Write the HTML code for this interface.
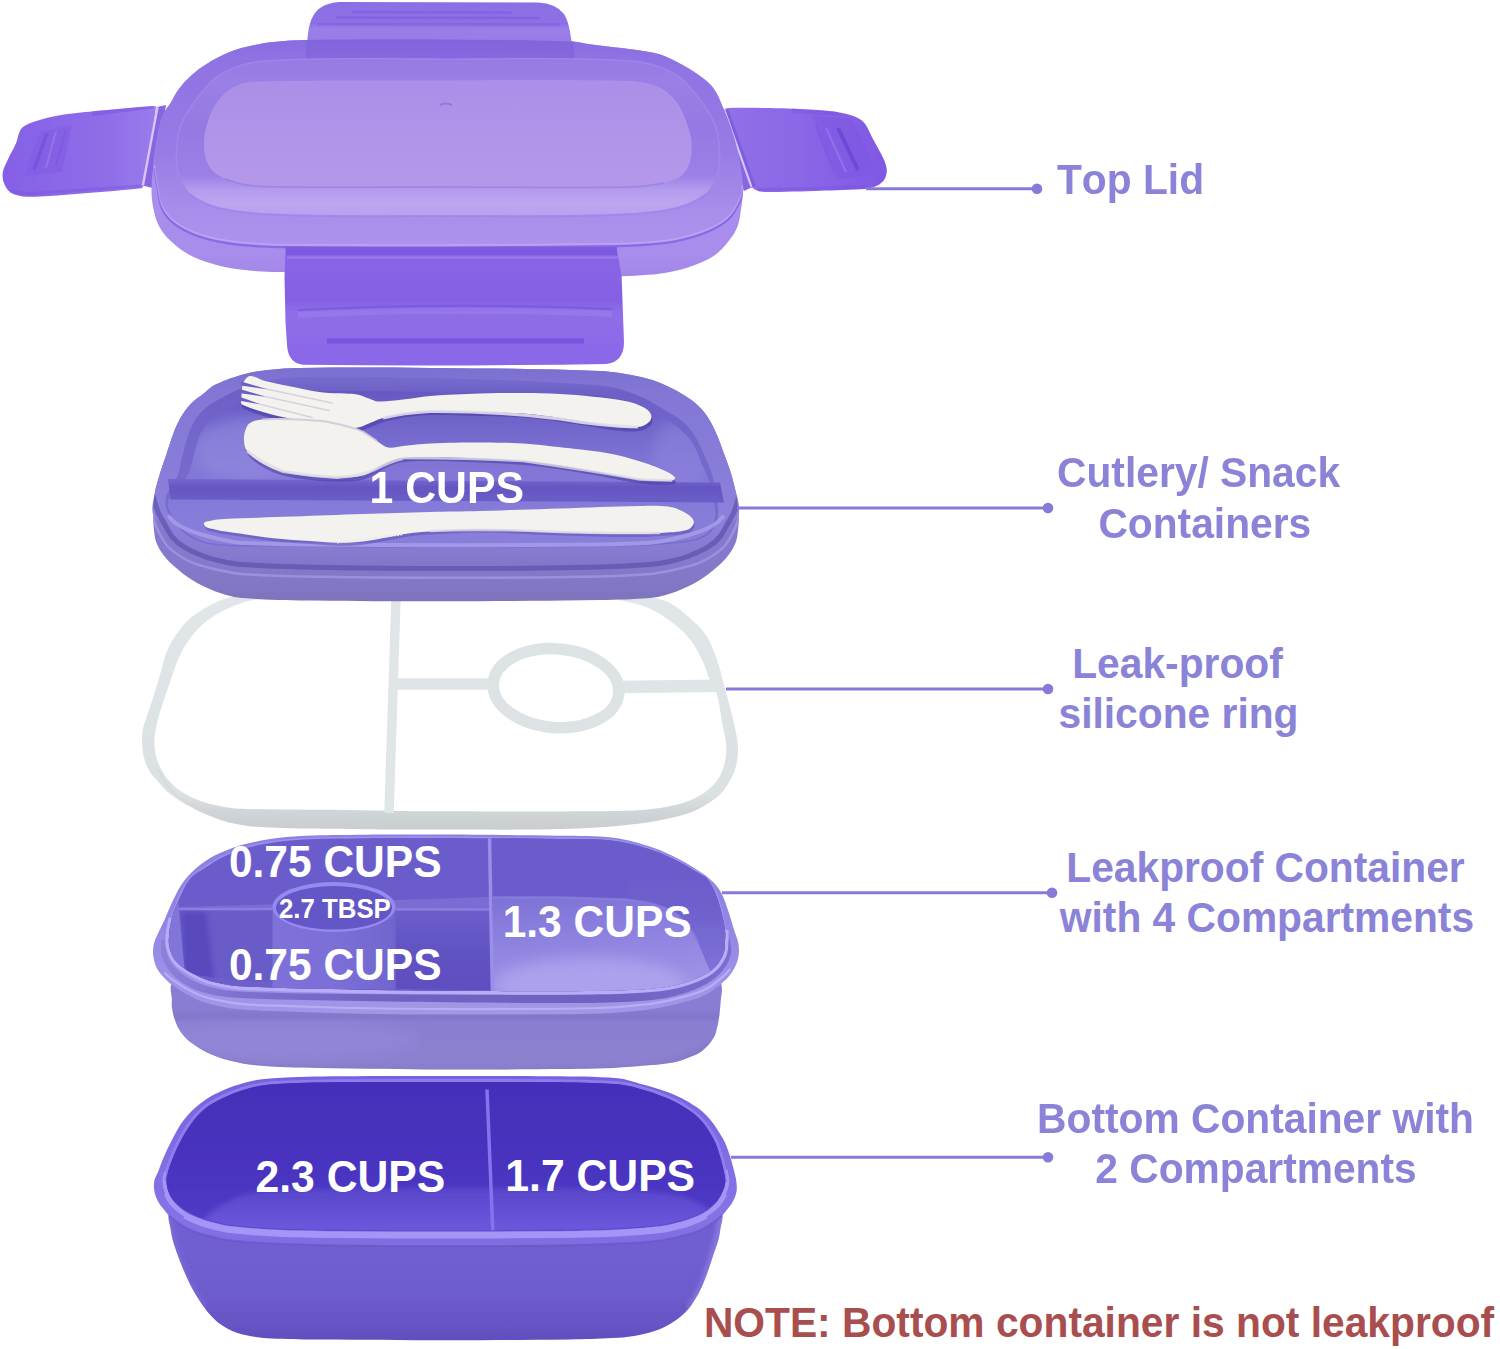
<!DOCTYPE html>
<html lang="en"><head><meta charset="utf-8"><title>Bento lunch box parts</title>
<style>
html,body{margin:0;padding:0;background:#fff;}
body{width:1500px;height:1349px;overflow:hidden;font-family:"Liberation Sans",sans-serif;}
svg{display:block;position:absolute;left:0;top:0;}
text{font-kerning:none;}
.lab{font-family:"Liberation Sans",sans-serif;font-weight:700;font-size:41px;fill:#8b83d8;}
.cup{font-family:"Liberation Sans",sans-serif;font-weight:700;font-size:42.5px;fill:#fff;}
.note{font-family:"Liberation Sans",sans-serif;font-weight:700;font-size:41px;fill:#a94e4e;}
</style></head>
<body>
<svg width="1500" height="1349" viewBox="0 0 1500 1349">
<defs>
<filter id="soft" x="-5%" y="-5%" width="110%" height="110%"><feGaussianBlur stdDeviation="0.7"/></filter>
<filter id="soft2" x="-10%" y="-10%" width="120%" height="120%"><feGaussianBlur stdDeviation="2.5"/></filter>
<filter id="soft6" x="-20%" y="-20%" width="140%" height="140%"><feGaussianBlur stdDeviation="7"/></filter>
<filter id="soft12" x="-30%" y="-30%" width="160%" height="160%"><feGaussianBlur stdDeviation="14"/></filter>
<linearGradient id="lidTop" gradientUnits="userSpaceOnUse" x1="0" y1="40" x2="0" y2="248"><stop offset="0" stop-color="#896ce0"/><stop offset="0.1" stop-color="#9073e3"/><stop offset="0.5" stop-color="#967ae5"/><stop offset="0.82" stop-color="#a88dea"/><stop offset="1" stop-color="#ad92ee"/></linearGradient>
<linearGradient id="lidIn" x1="0" y1="0" x2="0" y2="1"><stop offset="0" stop-color="#ab8fe8"/><stop offset="0.5" stop-color="#b094e8"/><stop offset="1" stop-color="#b498ea"/></linearGradient>
<linearGradient id="lidRidge" gradientUnits="userSpaceOnUse" x1="0" y1="59" x2="0" y2="216"><stop offset="0" stop-color="#967ae4"/><stop offset="0.14" stop-color="#9a7fe6"/><stop offset="0.45" stop-color="#9579e3"/><stop offset="0.74" stop-color="#9b80e6"/><stop offset="0.84" stop-color="#b59dee"/><stop offset="0.92" stop-color="#bda5f1"/><stop offset="1" stop-color="#b9a1f0"/></linearGradient>
<linearGradient id="lidSkirt" gradientUnits="userSpaceOnUse" x1="0" y1="200" x2="0" y2="277"><stop offset="0" stop-color="#a98eee"/><stop offset="0.7" stop-color="#a88dec"/><stop offset="1" stop-color="#a287ea"/></linearGradient>
<linearGradient id="tabL" x1="0" y1="0" x2="1" y2="0"><stop offset="0" stop-color="#8560e6"/><stop offset="0.7" stop-color="#8f6ee8"/><stop offset="1" stop-color="#9a7cec"/></linearGradient>
<linearGradient id="tabR" x1="0" y1="0" x2="1" y2="0"><stop offset="0" stop-color="#9170e8"/><stop offset="0.5" stop-color="#8a66e6"/><stop offset="1" stop-color="#8058e4"/></linearGradient>
<linearGradient id="tabB" x1="0" y1="0" x2="0" y2="1"><stop offset="0" stop-color="#8a66e6"/><stop offset="0.45" stop-color="#8560e4"/><stop offset="0.55" stop-color="#8e6ee8"/><stop offset="0.78" stop-color="#8c6ae8"/><stop offset="1" stop-color="#8a66e8"/></linearGradient>
<linearGradient id="tabT" gradientUnits="userSpaceOnUse" x1="0" y1="2" x2="0" y2="46"><stop offset="0" stop-color="#8c6ee4"/><stop offset="0.5" stop-color="#8e70e5"/><stop offset="0.62" stop-color="#9a7fe9"/><stop offset="1" stop-color="#967ae7"/></linearGradient>
<linearGradient id="trayFloor" x1="0" y1="0" x2="0" y2="1"><stop offset="0" stop-color="#6658c2"/><stop offset="0.2" stop-color="#7064ca"/><stop offset="0.5" stop-color="#8176d6"/><stop offset="1" stop-color="#897fdb"/></linearGradient>
<linearGradient id="trayOut" gradientUnits="userSpaceOnUse" x1="0" y1="560" x2="0" y2="602"><stop offset="0" stop-color="#8479cc"/><stop offset="0.45" stop-color="#8278c6"/><stop offset="1" stop-color="#7d73bc"/></linearGradient>
<linearGradient id="trayRim" gradientUnits="userSpaceOnUse" x1="0" y1="368" x2="0" y2="570"><stop offset="0" stop-color="#7b6fd0"/><stop offset="0.12" stop-color="#8277d5"/><stop offset="0.75" stop-color="#8b81dc"/><stop offset="0.88" stop-color="#867cd2"/><stop offset="1" stop-color="#8076c8"/></linearGradient>
<linearGradient id="trayWall" x1="0" y1="0" x2="0" y2="1"><stop offset="0" stop-color="#776bce"/><stop offset="0.1" stop-color="#6c60c6"/><stop offset="0.4" stop-color="#7468cc"/><stop offset="1" stop-color="#786ccf"/></linearGradient>
<linearGradient id="trayDiv" x1="0" y1="0" x2="0" y2="1"><stop offset="0" stop-color="#7466ce"/><stop offset="0.35" stop-color="#6457c2"/><stop offset="1" stop-color="#6a5dc7"/></linearGradient>
<linearGradient id="c4Body" gradientUnits="userSpaceOnUse" x1="0" y1="1010" x2="0" y2="1071"><stop offset="0" stop-color="#887dd2"/><stop offset="0.5" stop-color="#8a80d0"/><stop offset="1" stop-color="#8b81cd"/></linearGradient>
<linearGradient id="c4Floor" x1="0" y1="0" x2="0.15" y2="1"><stop offset="0" stop-color="#7d71d6"/><stop offset="0.45" stop-color="#8f83e0"/><stop offset="1" stop-color="#a297e8"/></linearGradient>
<linearGradient id="c4LowR" x1="0" y1="0" x2="0" y2="1"><stop offset="0" stop-color="#6c5eca"/><stop offset="0.5" stop-color="#6052c2"/><stop offset="1" stop-color="#5c4ebe"/></linearGradient>
<linearGradient id="c4Cup" x1="0" y1="0" x2="1" y2="0"><stop offset="0" stop-color="#7e72da"/><stop offset="0.6" stop-color="#7a6ed6"/><stop offset="1" stop-color="#7064ce"/></linearGradient>
<linearGradient id="c4RWall" gradientUnits="userSpaceOnUse" x1="0" y1="860" x2="0" y2="980"><stop offset="0" stop-color="#6a5ccb"/><stop offset="0.35" stop-color="#6d5fcc"/><stop offset="0.7" stop-color="#776bd3"/><stop offset="1" stop-color="#8074d8"/></linearGradient>
<linearGradient id="c4Ledge" gradientUnits="userSpaceOnUse" x1="0" y1="835" x2="0" y2="1015"><stop offset="0" stop-color="#8c80e0"/><stop offset="0.5" stop-color="#9186e3"/><stop offset="0.8" stop-color="#9d92e8"/><stop offset="1" stop-color="#a197e6"/></linearGradient>
<linearGradient id="c4Groove" gradientUnits="userSpaceOnUse" x1="160" y1="0" x2="732" y2="0"><stop offset="0" stop-color="#8c80da"/><stop offset="0.15" stop-color="#7c70ce"/><stop offset="0.4" stop-color="#6e62c2"/><stop offset="0.8" stop-color="#6e62c2"/><stop offset="1" stop-color="#7a6ed0"/></linearGradient>
<linearGradient id="c4Left" x1="0" y1="0" x2="0" y2="1"><stop offset="0" stop-color="#6a5cc9"/><stop offset="1" stop-color="#6e60ce"/></linearGradient>
<linearGradient id="btBody" gradientUnits="userSpaceOnUse" x1="0" y1="1240" x2="0" y2="1341"><stop offset="0" stop-color="#705fd1"/><stop offset="0.55" stop-color="#6d5ccd"/><stop offset="0.85" stop-color="#6654c4"/><stop offset="1" stop-color="#604ebe"/></linearGradient>
<linearGradient id="btRim" gradientUnits="userSpaceOnUse" x1="0" y1="1076" x2="0" y2="1246"><stop offset="0" stop-color="#7662de"/><stop offset="0.4" stop-color="#7f6ce4"/><stop offset="0.85" stop-color="#8573e6"/><stop offset="1" stop-color="#7e6ce0"/></linearGradient>
<linearGradient id="btIn" gradientUnits="userSpaceOnUse" x1="0" y1="1086" x2="0" y2="1235"><stop offset="0" stop-color="#442fb9"/><stop offset="0.6" stop-color="#4934c0"/><stop offset="1" stop-color="#513ec8"/></linearGradient>
<linearGradient id="btFloor" gradientUnits="userSpaceOnUse" x1="0" y1="1188" x2="0" y2="1235"><stop offset="0" stop-color="#5846ca"/><stop offset="0.5" stop-color="#6350d6"/><stop offset="1" stop-color="#6c5adc"/></linearGradient>
<linearGradient id="ringG" gradientUnits="userSpaceOnUse" x1="0" y1="596" x2="0" y2="830"><stop offset="0" stop-color="#e1e6e8"/><stop offset="0.85" stop-color="#dbe0e2"/><stop offset="0.92" stop-color="#d0d5d8"/><stop offset="1" stop-color="#c9cdd0"/></linearGradient>
</defs>
<rect width="1500" height="1349" fill="#ffffff"/>
<g id="lid" filter="url(#soft)">
<path d="M306,46 L307.6,38 Q309,16 320,8 Q328,2.5 340,2 L538,2.5 Q556,3.5 564,14 Q569,22 571,38 L573,48 Z" fill="url(#tabT)"/>
<path d="M352,12 L512,12.5" stroke="#7a5adc" stroke-width="2.5" opacity=".55" fill="none"/>
<path d="M336,17.5 L540,18" stroke="#7a5adc" stroke-width="2.5" opacity=".5" fill="none"/>
<path d="M318,24 L560,24.5" stroke="#7a5adc" stroke-width="2.5" opacity=".45" fill="none"/>
<path d="M153.3,106.0C135.3,107.2 111.3,109.5 93.3,111.3C83.3,112.3 69.9,113.5 60.0,115.3C51.9,116.7 41.1,119.3 33.3,122.0C29.4,123.3 23.9,125.5 21.3,128.7C18.4,132.3 17.9,139.0 16.0,143.3C13.9,148.2 10.2,154.4 8.0,159.3C6.2,163.2 3.4,168.4 2.7,172.7C2.2,175.9 2.8,180.3 4.0,183.3C5.3,186.5 7.7,190.9 10.7,192.7C15.0,195.2 21.8,196.5 26.7,196.7C38.7,197.1 54.7,195.6 66.7,194.7C89.2,193.0 119.1,190.7 141.5,188.2C142.3,188.1 143.1,186.8 143.3,186.0C147.5,162.5 153.0,131.0 156.0,107.3C156.1,106.4 154.2,105.9 153.3,106.0Z" fill="url(#tabL)"/>
<path d="M24,176 L40,132 L72,125 L62,172 Z" fill="#7d58e2" opacity=".4"/>
<path d="M34,170 L47,133" stroke="#6e48d8" stroke-width="3.5" opacity=".5"/>
<path d="M46,168 L56,131" stroke="#a58cf0" stroke-width="2" opacity=".45"/>
<path d="M56,166 L66,129" stroke="#7650dc" stroke-width="2" opacity=".4"/>
<path d="M92,111.5 L92,116 L153,108.5 L153.3,106 Z" fill="#7a52e0" opacity=".5"/>
<path d="M12,190 Q20,194 30,193.5 L141,186" stroke="#7a54e0" stroke-width="3" opacity=".45" fill="none"/>
<path d="M157,107 L166,105 L152.5,188 L142.7,185.6 Z" fill="#8866e2"/>
<path d="M157.5,107.4 L142.9,185.4" stroke="#d4c8fa" stroke-width="2.4"/>
<path d="M728.0,108.0C747.6,107.6 773.8,108.1 793.4,108.7C805.4,109.1 821.5,109.9 833.4,111.4C839.5,112.1 847.6,113.9 853.4,116.0C857.0,117.3 861.7,119.8 864.1,122.7C867.9,127.2 870.7,134.8 873.5,140.0C876.7,146.0 881.4,153.8 884.1,160.0C885.4,163.0 886.8,167.4 886.8,170.7C886.8,173.6 885.7,177.5 884.1,180.0C882.7,182.2 879.8,184.3 877.5,185.4C874.5,186.9 870.1,188.4 866.8,188.7C852.8,190.0 834.0,190.2 820.0,190.7C804.0,191.2 782.7,192.0 766.7,192.0C763.9,192.0 760.1,191.7 757.4,190.7C755.5,190.0 752.8,188.6 752.0,186.7C742.8,164.1 731.8,133.4 724.7,110.0C724.4,108.9 726.8,108.0 728.0,108.0Z" fill="url(#tabR)"/>
<path d="M812,116 L852,119 L878,174 L838,179 Z" fill="#7a54e0" opacity=".4"/>
<path d="M838,128 L858,170" stroke="#6040d0" stroke-width="4" opacity=".6"/>
<path d="M826,128 L846,172" stroke="#a58cf0" stroke-width="2" opacity=".45"/>
<path d="M816,126 L834,172" stroke="#7650dc" stroke-width="2" opacity=".4"/>
<path d="M792,108.5 L792,113 L843,116 L836,111.5 Z" fill="#7a52e0" opacity=".45"/>
<path d="M758,189.5 L820,188.5 L868,186" stroke="#7a54e0" stroke-width="3" opacity=".5" fill="none"/>
<path d="M718,106 L725,110 L752.5,187 L744,191 Z" fill="#8866e2"/>
<path d="M726,110 L753.5,187" stroke="#7a56de" stroke-width="5" opacity=".7"/>
<path d="M724.2,109.5 L751.5,187" stroke="#d4c8fa" stroke-width="2.2"/>
<path d="M306.7,40.0C354.7,39.3 392.0,39.2 440.0,39.5C487.9,39.8 525.1,40.0 573.0,41.5C579.0,41.7 583.4,43.5 589.3,44.3C612.3,47.5 630.5,48.2 653.3,52.8C662.3,54.6 668.8,57.9 677.0,62.0C685.7,66.3 692.1,70.4 700.0,76.0C705.2,79.8 709.5,82.8 713.3,88.0C717.8,94.1 719.7,99.8 722.7,106.7C726.0,114.2 728.3,120.2 731.0,128.0C733.3,134.6 734.9,139.9 736.5,146.7C738.5,155.0 739.8,161.5 741.0,170.0C742.1,177.3 742.8,183.0 742.8,190.4C742.8,197.1 742.1,202.2 741.1,208.8C740.2,215.2 739.8,220.4 737.5,226.4C735.3,232.1 732.5,236.2 728.7,241.0C724.0,246.8 720.2,251.5 714.0,255.7C706.8,260.6 700.2,263.0 692.0,266.0C684.3,268.8 678.0,270.3 670.0,271.9C662.2,273.5 656.0,274.1 648.0,274.8C638.5,275.7 631.1,276.2 621.6,276.3C559.8,277.0 511.8,277.8 450.0,277.0C390.2,276.3 343.8,273.9 284.0,272.1C276.1,271.9 269.9,272.0 262.0,271.4C251.4,270.7 243.2,270.2 232.7,268.5C224.7,267.2 218.5,265.8 210.7,263.3C202.6,260.7 196.2,258.6 188.7,254.5C181.7,250.6 176.8,246.8 171.0,241.3C166.1,236.7 162.5,232.6 159.3,226.7C156.1,220.8 154.9,215.6 153.5,209.0C152.1,202.3 151.4,196.9 151.5,190.0C151.6,179.2 152.7,170.8 154.0,160.0C155.3,149.2 156.2,140.7 158.5,130.0C159.8,123.7 161.4,118.9 164.0,113.0C165.8,109.0 168.4,106.5 170.7,102.7C173.7,97.9 175.3,93.8 178.7,89.3C182.6,84.1 185.9,80.3 190.7,76.0C196.0,71.2 200.6,67.8 206.7,64.0C213.6,59.6 219.2,56.5 226.7,53.3C233.7,50.3 239.3,48.5 246.7,46.7C256.2,44.4 263.6,43.1 273.3,42.0C285.3,40.7 294.7,40.2 306.7,40.0Z" fill="url(#lidSkirt)"/>
<path d="M306.7,40.0C354.7,39.3 392.0,39.2 440.0,39.5C487.9,39.8 525.1,40.0 573.0,41.5C579.0,41.7 583.4,43.5 589.3,44.3C612.3,47.5 630.5,48.2 653.3,52.8C662.3,54.6 668.8,57.9 677.0,62.0C685.7,66.3 692.1,70.4 700.0,76.0C705.2,79.8 709.5,82.8 713.3,88.0C717.8,94.1 719.7,99.8 722.7,106.7C726.0,114.2 728.3,120.2 731.0,128.0C733.3,134.6 734.9,139.9 736.5,146.7C738.5,155.0 739.8,161.5 741.0,170.0C741.9,176.4 742.6,181.5 742.5,188.0C742.4,192.4 742.2,196.0 740.4,200.0C737.1,207.3 734.5,213.4 728.7,219.0C722.0,225.4 715.2,228.7 706.7,232.3C696.6,236.6 688.1,238.7 677.3,241.0C666.9,243.2 658.6,243.8 648.0,244.7C637.5,245.6 629.3,246.1 618.7,246.2C558.0,247.1 510.7,247.3 450.0,247.5C390.8,247.7 344.7,247.5 285.5,247.2C277.0,247.2 270.4,247.1 262.0,246.5C248.8,245.5 238.4,245.0 225.3,242.8C214.6,241.0 206.2,239.3 196.0,235.5C187.6,232.4 181.1,229.3 174.0,223.7C168.7,219.5 165.2,215.1 162.3,209.0C159.3,202.7 159.2,196.9 157.9,190.0C156.4,182.1 154.4,176.0 154.5,168.0C154.6,154.2 156.2,143.6 158.5,130.0C159.6,123.7 161.4,118.9 164.0,113.0C165.8,109.0 168.4,106.5 170.7,102.7C173.7,97.9 175.3,93.8 178.7,89.3C182.6,84.1 185.9,80.3 190.7,76.0C196.0,71.2 200.6,67.8 206.7,64.0C213.6,59.6 219.2,56.5 226.7,53.3C233.7,50.3 239.3,48.5 246.7,46.7C256.2,44.4 263.6,43.1 273.3,42.0C285.3,40.7 294.7,40.2 306.7,40.0Z" fill="url(#lidTop)"/>
<clipPath id="lidclip"><path d="M306.7,40.0C354.7,39.3 392.0,39.2 440.0,39.5C487.9,39.8 525.1,40.0 573.0,41.5C579.0,41.7 583.4,43.5 589.3,44.3C612.3,47.5 630.5,48.2 653.3,52.8C662.3,54.6 668.8,57.9 677.0,62.0C685.7,66.3 692.1,70.4 700.0,76.0C705.2,79.8 709.5,82.8 713.3,88.0C717.8,94.1 719.7,99.8 722.7,106.7C726.0,114.2 728.3,120.2 731.0,128.0C733.3,134.6 734.9,139.9 736.5,146.7C738.5,155.0 739.8,161.5 741.0,170.0C741.9,176.4 742.6,181.5 742.5,188.0C742.4,192.4 742.2,196.0 740.4,200.0C737.1,207.3 734.5,213.4 728.7,219.0C722.0,225.4 715.2,228.7 706.7,232.3C696.6,236.6 688.1,238.7 677.3,241.0C666.9,243.2 658.6,243.8 648.0,244.7C637.5,245.6 629.3,246.1 618.7,246.2C558.0,247.1 510.7,247.3 450.0,247.5C390.8,247.7 344.7,247.5 285.5,247.2C277.0,247.2 270.4,247.1 262.0,246.5C248.8,245.5 238.4,245.0 225.3,242.8C214.6,241.0 206.2,239.3 196.0,235.5C187.6,232.4 181.1,229.3 174.0,223.7C168.7,219.5 165.2,215.1 162.3,209.0C159.3,202.7 159.2,196.9 157.9,190.0C156.4,182.1 154.4,176.0 154.5,168.0C154.6,154.2 156.2,143.6 158.5,130.0C159.6,123.7 161.4,118.9 164.0,113.0C165.8,109.0 168.4,106.5 170.7,102.7C173.7,97.9 175.3,93.8 178.7,89.3C182.6,84.1 185.9,80.3 190.7,76.0C196.0,71.2 200.6,67.8 206.7,64.0C213.6,59.6 219.2,56.5 226.7,53.3C233.7,50.3 239.3,48.5 246.7,46.7C256.2,44.4 263.6,43.1 273.3,42.0C285.3,40.7 294.7,40.2 306.7,40.0Z"/></clipPath>
<g clip-path="url(#lidclip)"><path d="M307,38 L573,38 L575,60 L305,60 Z" fill="#7a5cd8" opacity=".45"/></g>
<path d="M264.0,61.0C330.8,56.6 383.0,59.0 450.0,59.0C515.5,59.0 566.6,56.6 632.0,61.0C648.0,62.1 660.7,66.1 674.7,74.0C686.0,80.4 692.0,89.5 700.0,99.7C706.6,108.0 711.2,115.1 715.0,125.0C718.4,133.9 719.1,141.5 719.5,151.0C719.9,160.2 719.7,167.7 717.0,176.5C714.9,183.4 712.4,189.3 706.7,193.6C696.6,201.3 687.1,205.7 674.7,208.5C652.1,213.5 633.8,214.2 610.7,215.0C552.9,216.9 507.9,216.0 450.0,216.0C390.6,216.0 344.4,216.9 285.0,215.0C261.9,214.2 243.6,213.5 221.0,208.5C208.6,205.7 199.1,201.3 189.0,193.6C183.3,189.3 181.0,183.3 179.0,176.5C176.4,167.6 176.1,160.2 176.5,151.0C176.9,141.5 177.6,133.9 181.0,125.0C184.8,115.1 189.5,108.0 196.0,99.7C204.0,89.5 209.8,80.4 221.0,74.0C235.1,66.0 247.9,62.1 264.0,61.0Z" fill="url(#lidRidge)"/>
<path d="M264.0,61.0C330.8,56.6 383.0,59.0 450.0,59.0C515.5,59.0 566.6,56.6 632.0,61.0C648.0,62.1 660.7,66.1 674.7,74.0C686.0,80.4 692.0,89.5 700.0,99.7C706.6,108.0 711.2,115.1 715.0,125.0C718.4,133.9 719.1,141.5 719.5,151.0C719.9,160.2 719.7,167.7 717.0,176.5C714.9,183.4 712.4,189.3 706.7,193.6C696.6,201.3 687.1,205.7 674.7,208.5C652.1,213.5 633.8,214.2 610.7,215.0C552.9,216.9 507.9,216.0 450.0,216.0C390.6,216.0 344.4,216.9 285.0,215.0C261.9,214.2 243.6,213.5 221.0,208.5C208.6,205.7 199.1,201.3 189.0,193.6C183.3,189.3 181.0,183.3 179.0,176.5C176.4,167.6 176.1,160.2 176.5,151.0C176.9,141.5 177.6,133.9 181.0,125.0C184.8,115.1 189.5,108.0 196.0,99.7C204.0,89.5 209.8,80.4 221.0,74.0C235.1,66.0 247.9,62.1 264.0,61.0Z" fill="none" stroke="#a88eec" stroke-width="1.6" opacity=".6"/>
<path d="M259.0,81.6C327.7,79.8 381.2,80.7 450.0,80.5C507.9,80.3 552.9,79.3 610.7,80.5C626.0,80.8 638.3,80.4 653.0,84.8C662.1,87.5 668.3,92.7 674.7,99.7C680.5,106.1 683.0,112.8 686.0,121.0C689.2,129.9 691.9,137.2 691.7,146.7C691.5,156.1 690.7,164.5 685.0,172.0C679.8,178.8 672.2,180.7 664.0,183.0C652.8,186.2 643.6,186.8 632.0,187.0C566.5,188.2 515.5,187.0 450.0,187.0C392.0,187.0 347.0,187.6 289.0,187.0C273.8,186.9 261.8,187.0 246.7,185.0C238.6,184.0 232.4,182.1 225.0,178.7C219.1,175.9 214.0,173.4 210.4,168.0C206.0,161.3 204.4,154.7 204.0,146.7C203.5,137.3 205.2,129.9 208.0,121.0C210.6,112.8 213.6,106.4 219.0,99.7C223.9,93.6 228.8,89.2 236.0,86.0C243.7,82.5 250.6,81.8 259.0,81.6Z" fill="url(#lidIn)"/>
<path d="M664.0,183.0C652.5,184.4 643.6,186.8 632.0,187.0C566.5,188.2 515.5,187.0 450.0,187.0C392.0,187.0 347.0,187.6 289.0,187.0C273.8,186.9 261.8,187.0 246.7,185.0C238.6,184.0 232.8,181.0 225.0,178.7" fill="none" stroke="#9576de" stroke-width="1.6" opacity=".6"/>
<path d="M440,105 Q446,102 452,105" stroke="#8d6fdc" stroke-width="2" fill="none" opacity=".8"/>
<path d="M717.0,176.5C713.3,182.7 712.4,189.3 706.7,193.6C696.6,201.3 687.1,205.7 674.7,208.5C652.1,213.5 633.8,214.2 610.7,215.0C552.9,216.9 507.9,216.0 450.0,216.0C390.6,216.0 344.4,216.9 285.0,215.0C261.9,214.2 243.6,213.5 221.0,208.5C208.6,205.7 199.1,201.3 189.0,193.6C183.3,189.3 182.6,182.7 179.0,176.5" fill="none" stroke="#9d80e6" stroke-width="2" opacity=".55"/>
<path d="M742.5,188.0C741.7,192.3 742.2,196.0 740.4,200.0C737.1,207.3 734.5,213.4 728.7,219.0C722.0,225.4 715.2,228.7 706.7,232.3C696.6,236.6 688.1,238.7 677.3,241.0C666.9,243.2 658.6,243.8 648.0,244.7C637.5,245.6 629.3,246.1 618.7,246.2C558.0,247.1 510.7,247.3 450.0,247.5C390.8,247.7 344.7,247.5 285.5,247.2C277.0,247.2 270.4,247.1 262.0,246.5C248.8,245.5 238.4,245.0 225.3,242.8C214.6,241.0 206.2,239.3 196.0,235.5C187.6,232.4 181.1,229.3 174.0,223.7C168.7,219.5 165.2,215.1 162.3,209.0C159.3,202.7 159.2,196.9 157.9,190.0C156.4,182.1 155.7,175.9 154.5,168.0" fill="none" stroke="#7e5ee2" stroke-width="2.2" opacity=".75"/>
<path d="M742.5,188.0C741.7,192.3 742.2,196.0 740.4,200.0C737.1,207.3 734.5,213.4 728.7,219.0C722.0,225.4 715.2,228.7 706.7,232.3C696.6,236.6 688.1,238.7 677.3,241.0C666.9,243.2 658.6,243.8 648.0,244.7C637.5,245.6 629.3,246.1 618.7,246.2C558.0,247.1 510.7,247.3 450.0,247.5C390.8,247.7 344.7,247.5 285.5,247.2C277.0,247.2 270.4,247.1 262.0,246.5C248.8,245.5 238.4,245.0 225.3,242.8C214.6,241.0 206.2,239.3 196.0,235.5C187.6,232.4 181.1,229.3 174.0,223.7C168.7,219.5 165.2,215.1 162.3,209.0C159.3,202.7 159.2,196.9 157.9,190.0C156.4,182.1 155.7,175.9 154.5,168.0" fill="none" stroke="#c4b2f6" stroke-width="1.6" opacity=".6" transform="translate(0,-2.5)"/>
<path d="M285.5,247 L616.5,247 L621.6,276 L624,342 Q624,362 606,364 Q450,366.5 303,364.8 Q288,363 287,345 L285.5,322 L284.5,278 Z" fill="url(#tabB)"/>
<path d="M286,251 L617,251" stroke="#7652dc" stroke-width="8" opacity=".55"/>
<path d="M287,257.5 L618,257.5" stroke="#a992f2" stroke-width="2" opacity=".5"/>
<path d="M298,310 Q450,302 612,309" stroke="#7650dc" stroke-width="2.2" opacity=".6" fill="none"/>
<path d="M298,315 Q450,307 612,314" stroke="#a088ee" stroke-width="6" opacity=".4" fill="none"/>
<path d="M327,341 L584,341" stroke="#7048da" stroke-width="5" opacity=".7" fill="none"/>
</g>
<g id="ring" filter="url(#soft)">
<path d="M228.0,597.8C239.3,594.6 248.3,592.5 260.0,592.0C321.2,589.6 368.8,590.2 430.0,590.0C491.2,589.8 538.8,589.8 600.0,591.0C611.9,591.2 621.2,592.3 633.0,594.0C644.0,595.6 652.6,597.1 663.3,600.2C667.8,601.5 671.0,603.5 675.0,606.0C679.5,608.9 682.7,611.6 686.7,615.3C693.7,621.7 699.9,626.2 705.3,634.0C711.0,642.4 713.5,650.1 717.0,659.7C720.3,668.7 721.5,676.1 724.0,685.3C727.4,697.9 730.5,707.6 733.3,720.3C735.5,730.3 737.5,738.1 738.0,748.3C738.3,755.1 737.2,760.4 735.7,767.0C734.7,771.4 733.2,774.7 731.0,778.7C728.1,784.0 725.8,788.2 721.7,792.7C718.1,796.7 714.5,799.0 710.0,802.0C704.4,805.7 699.9,808.6 693.7,811.3C687.2,814.1 681.9,815.4 675.0,817.0C662.5,819.8 652.7,822.1 640.0,823.5C614.9,826.3 595.3,828.1 570.0,828.8C519.6,830.3 480.4,829.5 430.0,829.6C406.0,829.6 387.3,829.5 363.3,829.2C327.3,828.7 299.3,829.1 263.3,827.3C251.2,826.7 241.8,825.4 230.0,822.7C220.1,820.4 212.7,817.1 203.3,813.3C198.3,811.3 194.7,809.1 190.0,806.5C185.1,803.8 181.3,801.8 176.7,798.7C172.5,795.8 169.2,793.5 165.5,790.0C162.0,786.7 159.8,783.6 156.7,780.0C154.2,777.1 151.7,775.1 149.8,771.7C147.1,767.0 145.4,763.0 144.0,757.7C142.7,752.8 142.3,748.8 142.1,743.7C141.9,738.7 142.0,734.7 142.8,729.7C143.5,725.4 145.0,722.2 146.3,718.0C148.7,710.4 150.9,704.6 153.3,697.0C155.9,688.6 157.8,682.1 160.3,673.7C162.8,665.3 163.9,658.4 167.3,650.3C169.9,644.0 172.8,639.6 176.7,634.0C180.4,628.6 183.4,624.4 188.3,620.0C194.4,614.5 199.8,611.0 207.0,607.0C214.2,603.0 220.1,600.0 228.0,597.8Z M253.7,600.0C270.2,597.3 283.3,598.3 300.0,598.0C346.8,597.2 383.2,597.0 430.0,597.0C491.2,597.0 538.8,596.3 600.0,598.0C611.2,598.3 619.8,599.9 630.7,602.5C639.4,604.5 646.1,606.7 654.0,610.7C662.1,614.8 667.9,619.0 675.0,624.7C681.4,629.9 686.3,634.4 691.3,641.0C696.5,647.9 699.3,654.2 703.0,662.0C706.1,668.5 707.2,674.1 710.0,680.7C712.2,685.9 715.4,689.3 717.0,694.7C719.7,703.7 720.1,711.1 721.7,720.3C723.4,730.4 726.1,738.1 726.3,748.3C726.5,756.0 725.2,762.0 722.8,769.3C721.0,774.8 718.5,778.9 714.7,783.3C710.4,788.3 706.3,791.6 700.7,795.0C694.4,798.8 689.1,801.2 682.0,803.2C671.3,806.3 662.7,807.7 651.7,809.0C639.2,810.5 629.3,810.8 616.7,810.9C549.5,811.6 497.2,811.5 430.0,811.3C406.0,811.2 387.3,810.5 363.3,810.2C321.3,809.7 288.7,810.0 246.7,809.0C238.2,808.8 231.6,808.2 223.3,806.7C214.8,805.2 208.1,803.7 200.0,800.8C192.9,798.2 187.5,795.7 181.3,791.5C175.6,787.7 171.6,784.0 167.3,778.7C163.1,773.4 160.5,768.6 158.0,762.3C155.8,756.7 154.9,752.0 154.5,746.0C154.1,740.1 154.7,735.5 155.7,729.7C156.8,722.9 158.3,717.6 160.3,711.0C163.4,700.8 166.2,693.0 169.7,683.0C172.9,673.7 175.0,666.3 179.0,657.3C181.7,651.1 184.4,646.5 188.3,641.0C192.8,634.7 196.5,629.8 202.3,624.7C209.2,618.8 215.1,614.6 223.3,610.7C233.8,605.7 242.3,601.9 253.7,600.0Z" fill="url(#ringG)" fill-rule="evenodd"/>
<path d="M682.0,803.2C671.1,805.3 662.7,807.7 651.7,809.0C639.2,810.5 629.3,810.8 616.7,810.9C549.5,811.6 497.2,811.5 430.0,811.3C406.0,811.2 387.3,810.5 363.3,810.2C321.3,809.7 288.7,810.0 246.7,809.0C238.2,808.8 231.6,808.2 223.3,806.7C214.8,805.2 208.1,803.7 200.0,800.8C192.9,798.2 187.5,795.7 181.3,791.5C175.6,787.7 171.6,784.0 167.3,778.7C163.1,773.4 161.3,768.2 158.0,762.3" fill="none" stroke="#cfd6d8" stroke-width="1.5" opacity=".5" transform="translate(0,7)"/>
<path d="M396,598 L389,813" stroke="#e0e5e7" stroke-width="9.4"/>
<path d="M397,684 L494,684" stroke="#dfe4e6" stroke-width="11.7"/>
<path d="M618,687 L719,685.8" stroke="#dfe4e6" stroke-width="12.5"/>
<ellipse cx="556" cy="688.2" rx="63" ry="39.4" fill="none" stroke="#dde3e4" stroke-width="11.5" transform="rotate(4.5 556 688)"/>
</g>
<g id="tray" filter="url(#soft)">
<path d="M153.3,515.6C153.4,507.6 153.4,501.3 154.7,493.4C155.9,486.0 157.9,480.5 160.0,473.4C162.2,466.1 164.3,460.6 166.7,453.4C169.1,446.2 170.7,440.5 173.4,433.4C175.5,428.0 177.1,423.7 180.0,418.7C183.3,413.1 186.2,408.8 190.7,404.0C194.9,399.5 199.2,397.1 204.0,393.3C208.1,390.1 210.9,386.8 215.6,384.6C225.8,379.8 234.2,377.0 245.0,374.0C253.1,371.7 259.6,370.9 268.0,370.0C279.5,368.7 288.5,368.1 300.0,368.0C346.8,367.4 383.2,367.5 430.0,368.0C491.2,368.6 538.8,368.6 600.0,371.0C613.1,371.5 623.2,373.5 636.0,376.0C644.4,377.6 651.0,379.3 659.0,382.5C668.0,386.0 674.8,389.4 683.0,394.5C690.0,398.8 695.4,402.5 701.0,408.5C706.3,414.2 709.5,419.5 713.0,426.5C718.0,436.4 720.7,444.6 724.5,455.0C728.3,465.5 731.5,473.6 734.0,484.5C736.6,495.5 737.8,504.3 738.7,515.6C739.2,521.1 738.5,525.5 737.9,531.0C737.4,535.3 737.2,538.8 735.6,542.8C733.5,547.9 731.2,551.7 727.8,556.0C724.1,560.7 720.6,563.8 716.1,567.7C710.8,572.3 706.5,575.7 700.6,579.4C693.9,583.6 688.3,586.3 681.1,589.5C675.7,591.9 671.3,593.4 665.6,595.0C660.1,596.5 655.7,597.6 650.0,598.0C632.0,599.4 618.0,599.7 600.0,600.0C549.6,600.8 510.4,601.1 460.0,601.2C402.4,601.3 357.6,601.3 300.0,600.5C279.1,600.2 262.8,599.6 242.0,598.0C236.3,597.6 231.9,596.5 226.4,595.0C220.7,593.4 216.3,591.9 210.9,589.5C203.7,586.3 198.1,583.6 191.4,579.4C185.5,575.7 181.2,572.3 175.9,567.7C171.4,563.8 167.9,560.7 164.2,556.0C160.8,551.7 158.5,547.9 156.4,542.8C154.8,538.8 154.6,535.3 154.1,531.0C153.5,525.5 153.2,521.2 153.3,515.6Z" fill="url(#trayOut)"/>
<path d="M153.3,515.6C150.9,508.0 153.4,501.3 154.7,493.4C155.9,486.0 157.9,480.5 160.0,473.4C162.2,466.1 164.3,460.6 166.7,453.4C169.1,446.2 170.7,440.5 173.4,433.4C175.5,428.0 177.1,423.7 180.0,418.7C183.3,413.1 186.2,408.8 190.7,404.0C194.9,399.5 199.2,397.1 204.0,393.3C208.1,390.1 210.9,386.8 215.6,384.6C225.8,379.8 234.2,377.0 245.0,374.0C253.1,371.7 259.6,370.9 268.0,370.0C279.5,368.7 288.5,368.1 300.0,368.0C346.8,367.4 383.2,367.5 430.0,368.0C491.2,368.6 538.8,368.6 600.0,371.0C613.1,371.5 623.2,373.5 636.0,376.0C644.4,377.6 651.0,379.3 659.0,382.5C668.0,386.0 674.8,389.4 683.0,394.5C690.0,398.8 695.4,402.5 701.0,408.5C706.3,414.2 709.5,419.5 713.0,426.5C718.0,436.4 720.7,444.6 724.5,455.0C728.3,465.5 731.5,473.6 734.0,484.5C736.6,495.5 740.5,504.4 738.7,515.6C737.9,520.3 731.0,519.7 727.8,523.3C724.1,527.4 723.5,532.3 720.0,536.6C716.5,540.9 713.1,543.8 708.4,546.7C701.8,550.8 696.2,553.2 688.9,556.0C682.1,558.6 676.6,559.9 669.5,561.5C662.6,563.0 657.1,564.0 650.0,564.6C632.0,566.0 618.0,566.6 600.0,567.0C549.6,568.0 510.4,568.5 460.0,568.5C402.4,568.5 357.6,568.0 300.0,567.0C279.1,566.6 262.8,566.1 242.0,564.6C234.9,564.1 229.4,563.0 222.5,561.5C215.4,559.9 209.9,558.6 203.1,556.0C195.8,553.2 190.2,550.8 183.6,546.7C178.9,543.8 175.5,540.9 172.0,536.6C168.5,532.3 167.9,527.4 164.2,523.3C161.0,519.7 154.8,520.2 153.3,515.6Z" fill="url(#trayRim)"/>
<clipPath id="trayclip"><path d="M153.3,515.6C153.4,507.6 153.4,501.3 154.7,493.4C155.9,486.0 157.9,480.5 160.0,473.4C162.2,466.1 164.3,460.6 166.7,453.4C169.1,446.2 170.7,440.5 173.4,433.4C175.5,428.0 177.1,423.7 180.0,418.7C183.3,413.1 186.2,408.8 190.7,404.0C194.9,399.5 199.2,397.1 204.0,393.3C208.1,390.1 210.9,386.8 215.6,384.6C225.8,379.8 234.2,377.0 245.0,374.0C253.1,371.7 259.6,370.9 268.0,370.0C279.5,368.7 288.5,368.1 300.0,368.0C346.8,367.4 383.2,367.5 430.0,368.0C491.2,368.6 538.8,368.6 600.0,371.0C613.1,371.5 623.2,373.5 636.0,376.0C644.4,377.6 651.0,379.3 659.0,382.5C668.0,386.0 674.8,389.4 683.0,394.5C690.0,398.8 695.4,402.5 701.0,408.5C706.3,414.2 709.5,419.5 713.0,426.5C718.0,436.4 720.7,444.6 724.5,455.0C728.3,465.5 731.5,473.6 734.0,484.5C736.6,495.5 737.8,504.3 738.7,515.6C739.2,521.1 738.5,525.5 737.9,531.0C737.4,535.3 737.2,538.8 735.6,542.8C733.5,547.9 731.2,551.7 727.8,556.0C724.1,560.7 720.6,563.8 716.1,567.7C710.8,572.3 706.5,575.7 700.6,579.4C693.9,583.6 688.3,586.3 681.1,589.5C675.7,591.9 671.3,593.4 665.6,595.0C660.1,596.5 655.7,597.6 650.0,598.0C632.0,599.4 618.0,599.7 600.0,600.0C549.6,600.8 510.4,601.1 460.0,601.2C402.4,601.3 357.6,601.3 300.0,600.5C279.1,600.2 262.8,599.6 242.0,598.0C236.3,597.6 231.9,596.5 226.4,595.0C220.7,593.4 216.3,591.9 210.9,589.5C203.7,586.3 198.1,583.6 191.4,579.4C185.5,575.7 181.2,572.3 175.9,567.7C171.4,563.8 167.9,560.7 164.2,556.0C160.8,551.7 158.5,547.9 156.4,542.8C154.8,538.8 154.6,535.3 154.1,531.0C153.5,525.5 153.2,521.2 153.3,515.6Z"/></clipPath>
<g clip-path="url(#trayclip)">
<path d="M739.0,496.0C737.2,501.8 736.3,506.4 734.0,512.0C732.2,516.3 730.1,519.3 727.8,523.3C725.1,528.1 723.5,532.3 720.0,536.6C716.5,540.9 713.1,543.8 708.4,546.7C701.8,550.8 696.2,553.2 688.9,556.0C682.1,558.6 676.6,559.9 669.5,561.5C662.6,563.0 657.1,564.0 650.0,564.6C632.0,566.0 618.0,566.6 600.0,567.0C549.6,568.0 510.4,568.5 460.0,568.5C402.4,568.5 357.6,568.0 300.0,567.0C279.1,566.6 262.8,566.1 242.0,564.6C234.9,564.1 229.4,563.0 222.5,561.5C215.4,559.9 209.9,558.6 203.1,556.0C195.8,553.2 190.2,550.8 183.6,546.7C178.9,543.8 175.5,540.9 172.0,536.6C168.5,532.3 166.9,528.1 164.2,523.3C161.9,519.3 159.8,516.3 158.0,512.0C155.7,506.4 154.8,501.8 153.0,496.0" fill="none" stroke="#5e52ae" stroke-width="5" opacity=".75" filter="url(#soft)"/>
<path d="M740.0,508.0C739.1,513.0 739.0,517.1 737.5,522.0C736.0,526.9 734.2,530.5 731.7,535.0C729.3,539.4 727.3,543.0 723.9,546.7C720.3,550.6 716.8,553.2 712.3,556.0C707.0,559.3 702.6,561.7 696.7,563.8C688.5,566.7 681.8,568.1 673.3,570.0C665.0,571.8 658.5,573.2 650.0,574.0C632.0,575.6 618.0,576.1 600.0,576.5C549.6,577.5 510.4,577.7 460.0,577.7C402.4,577.7 357.6,577.5 300.0,576.5C279.1,576.1 262.8,575.7 242.0,574.0C233.5,573.3 227.0,571.8 218.7,570.0C210.2,568.1 203.5,566.7 195.3,563.8C189.4,561.7 185.0,559.3 179.7,556.0C175.2,553.2 171.7,550.6 168.1,546.7C164.7,543.0 162.7,539.4 160.3,535.0C157.8,530.5 156.0,526.9 154.5,522.0C153.0,517.1 152.9,513.0 152.0,508.0" fill="none" stroke="#9c92e0" stroke-width="2.6" opacity=".9"/>
</g>
<path d="M300.0,377.0C346.8,376.4 383.2,376.7 430.0,378.0C491.2,379.7 538.9,380.6 600.0,385.5C613.2,386.6 623.2,389.7 635.6,394.4C646.8,398.6 654.6,404.0 665.0,410.0C671.7,413.9 677.2,416.6 683.0,421.7C688.1,426.1 691.5,430.3 695.0,436.0C700.1,444.4 703.0,451.7 706.8,460.8C709.8,467.9 712.3,473.5 714.0,481.0C716.3,490.9 717.5,498.8 718.0,509.0C718.2,514.1 718.0,518.3 716.0,523.0C713.9,528.1 711.7,532.6 707.0,535.5C699.6,540.0 692.6,541.4 684.0,542.5C660.0,545.4 641.2,546.0 617.0,546.5C549.7,547.8 497.3,547.5 430.0,547.5C369.9,547.5 323.1,547.3 263.0,546.5C243.9,546.2 228.9,547.1 210.0,544.5C202.0,543.4 196.0,540.6 189.0,536.5C183.7,533.4 180.5,529.6 176.5,525.0C172.9,520.9 170.2,517.5 168.0,512.5C166.2,508.3 165.1,504.6 165.5,500.0C165.9,495.4 168.0,492.1 170.0,488.0C172.3,483.5 175.5,480.7 177.4,476.0C179.6,470.5 179.9,465.7 181.4,460.0C183.3,452.8 184.4,447.1 186.7,440.0C188.7,433.6 190.1,428.5 193.4,422.7C196.4,417.4 199.5,413.5 204.0,409.4C209.1,404.8 214.0,402.1 220.0,398.7C227.7,394.4 233.8,391.1 242.0,388.0C251.8,384.3 259.7,382.0 270.0,380.0C280.7,378.0 289.1,377.1 300.0,377.0Z" fill="url(#trayWall)"/>
<path d="M300.0,391.0C346.8,390.5 383.2,391.3 430.0,392.0C491.2,392.9 538.9,392.0 600.0,395.6C613.1,396.4 623.1,399.8 635.6,404.0C644.5,407.0 650.7,411.2 659.0,415.7C665.6,419.3 671.2,421.6 677.0,426.4C683.3,431.6 688.1,436.1 692.5,443.0C697.6,450.9 699.3,458.2 703.0,466.8C705.2,471.9 707.5,475.7 709.0,481.0C711.8,490.9 713.8,498.8 715.0,509.0C715.6,513.7 715.6,517.6 714.0,522.0C712.2,526.9 710.4,531.2 706.0,534.0C699.0,538.4 692.2,540.0 684.0,541.0C660.0,544.0 641.2,544.5 617.0,545.0C549.7,546.3 497.3,546.0 430.0,546.0C369.9,546.0 323.1,545.8 263.0,545.0C243.9,544.7 228.9,545.6 210.0,543.0C202.3,541.9 196.7,539.0 190.0,535.0C185.0,532.0 181.8,528.4 178.0,524.0C174.6,520.1 172.1,516.8 170.0,512.0C168.4,508.3 166.9,504.9 168.0,501.0C169.3,496.3 173.0,493.9 176.0,490.0C179.3,485.8 182.6,483.2 185.4,478.7C187.9,474.7 189.2,471.2 190.7,466.7C193.0,459.6 193.7,453.8 196.0,446.7C198.0,440.3 199.2,435.1 202.7,429.4C206.1,423.9 209.5,419.9 214.7,416.0C220.8,411.4 226.4,409.0 233.4,406.0C240.9,402.8 247.1,401.2 255.0,399.0C263.2,396.7 269.6,395.0 278.0,393.5C285.8,392.1 292.0,391.1 300.0,391.0Z" fill="url(#trayFloor)"/>
<clipPath id="floorclip"><path d="M300.0,391.0C346.8,390.5 383.2,391.3 430.0,392.0C491.2,392.9 538.9,392.0 600.0,395.6C613.1,396.4 623.1,399.8 635.6,404.0C644.5,407.0 650.7,411.2 659.0,415.7C665.6,419.3 671.2,421.6 677.0,426.4C683.3,431.6 688.1,436.1 692.5,443.0C697.6,450.9 699.3,458.2 703.0,466.8C705.2,471.9 707.5,475.7 709.0,481.0C711.8,490.9 713.8,498.8 715.0,509.0C715.6,513.7 715.6,517.6 714.0,522.0C712.2,526.9 710.4,531.2 706.0,534.0C699.0,538.4 692.2,540.0 684.0,541.0C660.0,544.0 641.2,544.5 617.0,545.0C549.7,546.3 497.3,546.0 430.0,546.0C369.9,546.0 323.1,545.8 263.0,545.0C243.9,544.7 228.9,545.6 210.0,543.0C202.3,541.9 196.7,539.0 190.0,535.0C185.0,532.0 181.8,528.4 178.0,524.0C174.6,520.1 172.1,516.8 170.0,512.0C168.4,508.3 166.9,504.9 168.0,501.0C169.3,496.3 173.0,493.9 176.0,490.0C179.3,485.8 182.6,483.2 185.4,478.7C187.9,474.7 189.2,471.2 190.7,466.7C193.0,459.6 193.7,453.8 196.0,446.7C198.0,440.3 199.2,435.1 202.7,429.4C206.1,423.9 209.5,419.9 214.7,416.0C220.8,411.4 226.4,409.0 233.4,406.0C240.9,402.8 247.1,401.2 255.0,399.0C263.2,396.7 269.6,395.0 278.0,393.5C285.8,392.1 292.0,391.1 300.0,391.0Z"/></clipPath>
<g clip-path="url(#floorclip)"><ellipse cx="250" cy="450" rx="60" ry="32" fill="#958ce0" opacity=".6" filter="url(#soft6)"/><ellipse cx="680" cy="455" rx="28" ry="36" fill="#8e85de" opacity=".55" filter="url(#soft6)"/></g>
<path d="M168,479 L720,482.5 L724,502.4 L170.5,499.5 Z" fill="url(#trayDiv)"/>
<path d="M723.9,515.6C721.1,518.4 719.3,521.0 716.1,523.3C712.2,526.1 708.9,527.7 704.5,529.6C699.0,531.9 694.6,533.4 688.9,535.0C682.0,537.0 676.5,538.3 669.5,539.7C662.5,541.1 657.1,542.3 650.0,542.8C632.0,544.0 618.0,544.3 600.0,544.5C549.6,545.1 510.4,545.2 460.0,545.2C402.4,545.2 357.6,545.1 300.0,544.5C279.1,544.3 262.8,544.1 242.0,542.8C234.9,542.4 229.5,541.1 222.5,539.7C215.5,538.3 210.0,537.0 203.1,535.0C197.4,533.4 193.0,531.9 187.5,529.6C183.1,527.7 179.8,526.1 175.9,523.3C172.7,521.0 170.9,518.4 168.1,515.6" fill="none" stroke="#a89ce8" stroke-width="4" opacity=".85"/>
<path d="M247.0,377.5C252.0,373.2 258.5,379.7 265.0,381.0C271.5,382.4 276.5,383.7 283.0,385.0C297.4,387.8 308.5,390.5 323.0,392.5C330.9,393.6 337.1,393.0 345.0,393.5C349.3,393.8 352.8,393.6 357.0,394.5C361.5,395.4 364.7,397.1 369.0,398.5C372.2,399.6 374.6,401.4 378.0,401.5C387.0,401.8 394.0,400.4 403.0,399.5C412.7,398.5 420.2,396.8 430.0,396.0C448.0,394.6 462.0,394.1 480.0,393.5C495.5,393.0 507.5,392.9 523.0,393.0C536.3,393.1 546.7,393.3 560.0,394.0C571.9,394.6 581.1,395.4 593.0,396.7C604.6,397.9 613.6,398.7 625.0,401.0C631.7,402.4 636.9,403.9 643.0,407.0C646.5,408.8 649.5,410.8 651.0,414.5C652.0,417.1 651.0,420.1 649.0,422.0C645.9,425.0 642.3,426.4 638.0,427.0C629.8,428.1 623.2,427.2 615.0,426.5C607.0,425.8 600.9,424.2 593.0,423.0C576.1,420.4 563.0,418.3 546.0,416.0C537.7,414.9 531.3,414.0 523.0,413.5C507.5,412.6 495.5,412.4 480.0,412.0C462.0,411.5 448.0,410.6 430.0,411.0C420.2,411.2 412.7,412.1 403.0,413.5C395.7,414.6 390.1,416.0 383.0,418.0C378.2,419.4 374.7,421.2 370.0,423.0C365.7,424.6 362.6,426.7 358.0,427.5C351.6,428.6 346.4,428.8 340.0,428.0C325.5,426.2 314.4,423.4 300.0,420.5C289.2,418.3 280.7,416.9 270.0,414.0C260.1,411.3 252.5,408.9 243.0,405.0C241.8,404.5 240.8,403.3 241.0,402.0C242.3,393.0 240.2,383.5 247.0,377.5Z" fill="#4a3ca4" opacity=".6" transform="translate(1,4)" filter="url(#soft)"/>
<path d="M247.0,377.5C252.0,373.2 258.5,379.7 265.0,381.0C271.5,382.4 276.5,383.7 283.0,385.0C297.4,387.8 308.5,390.5 323.0,392.5C330.9,393.6 337.1,393.0 345.0,393.5C349.3,393.8 352.8,393.6 357.0,394.5C361.5,395.4 364.7,397.1 369.0,398.5C372.2,399.6 374.6,401.4 378.0,401.5C387.0,401.8 394.0,400.4 403.0,399.5C412.7,398.5 420.2,396.8 430.0,396.0C448.0,394.6 462.0,394.1 480.0,393.5C495.5,393.0 507.5,392.9 523.0,393.0C536.3,393.1 546.7,393.3 560.0,394.0C571.9,394.6 581.1,395.4 593.0,396.7C604.6,397.9 613.6,398.7 625.0,401.0C631.7,402.4 636.9,403.9 643.0,407.0C646.5,408.8 649.5,410.8 651.0,414.5C652.0,417.1 651.0,420.1 649.0,422.0C645.9,425.0 642.3,426.4 638.0,427.0C629.8,428.1 623.2,427.2 615.0,426.5C607.0,425.8 600.9,424.2 593.0,423.0C576.1,420.4 563.0,418.3 546.0,416.0C537.7,414.9 531.3,414.0 523.0,413.5C507.5,412.6 495.5,412.4 480.0,412.0C462.0,411.5 448.0,410.6 430.0,411.0C420.2,411.2 412.7,412.1 403.0,413.5C395.7,414.6 390.1,416.0 383.0,418.0C378.2,419.4 374.7,421.2 370.0,423.0C365.7,424.6 362.6,426.7 358.0,427.5C351.6,428.6 346.4,428.8 340.0,428.0C325.5,426.2 314.4,423.4 300.0,420.5C289.2,418.3 280.7,416.9 270.0,414.0C260.1,411.3 252.5,408.9 243.0,405.0C241.8,404.5 240.8,403.3 241.0,402.0C242.3,393.0 240.2,383.5 247.0,377.5Z" fill="#f4f2ee"/>
<path d="M241,381.6 L268.3,389.4 L241,385.6 Z" fill="#6a5ec6"/>
<path d="M266.3,389.0 L332,403" stroke="#d6d2dc" stroke-width="1.5" stroke-linecap="round"/>
<path d="M240.5,389.2 L267.1,397.0 L240.5,393.2 Z" fill="#6a5ec6"/>
<path d="M265.1,396.6 L329,410.5" stroke="#d6d2dc" stroke-width="1.5" stroke-linecap="round"/>
<path d="M239.5,396.8 L261.2,404.4 L239.5,400.8 Z" fill="#6a5ec6"/>
<path d="M259.2,404.0 L312,417.5" stroke="#d6d2dc" stroke-width="1.5" stroke-linecap="round"/>
<path d="M383,418 Q403,413 430,411.5 Q500,411 560,419 Q600,426 638,427" fill="none" stroke="#e2deea" stroke-width="3" opacity=".9"/>
<path d="M244.0,440.0C243.7,436.4 244.3,433.4 245.5,430.0C246.5,427.2 247.5,424.6 250.0,423.0C253.8,420.6 257.5,420.1 262.0,419.5C269.5,418.4 275.4,418.1 283.0,418.3C297.4,418.7 308.7,419.4 323.0,421.0C332.8,422.1 340.5,423.4 350.0,426.0C354.9,427.3 358.5,429.2 363.0,431.7C368.3,434.6 371.9,437.8 377.0,441.0C380.9,443.5 383.5,446.6 388.0,447.5C393.3,448.5 397.6,446.5 403.0,446.0C412.7,445.1 420.2,443.9 430.0,443.5C448.0,442.7 462.0,442.5 480.0,442.5C495.5,442.5 507.5,442.8 523.0,443.5C531.6,443.9 538.2,444.8 546.7,445.7C563.4,447.5 576.4,448.8 593.0,451.0C601.6,452.1 608.3,453.1 616.7,455.0C627.0,457.4 634.9,459.7 645.0,463.0C651.6,465.1 656.7,467.0 663.0,470.0C667.6,472.2 671.7,473.6 675.0,477.5C676.0,478.7 673.5,480.4 672.0,480.5C660.5,481.2 651.4,480.9 640.0,479.5C622.9,477.4 610.0,473.9 593.0,471.0C576.1,468.1 563.0,465.9 546.0,463.5C537.8,462.3 531.3,461.6 523.0,461.0C507.5,459.8 495.5,459.2 480.0,458.5C462.0,457.7 448.0,457.1 430.0,457.0C420.3,456.9 412.7,456.9 403.0,458.0C398.2,458.5 394.5,459.6 390.0,461.5C384.0,464.0 379.8,467.0 374.0,470.0C370.1,472.0 367.3,474.6 363.0,475.5C353.8,477.4 346.4,477.6 337.0,477.7C327.3,477.8 319.7,477.1 310.0,476.0C300.2,474.9 292.5,474.2 283.0,471.7C275.5,469.7 269.7,467.6 263.0,463.7C256.6,460.0 251.6,456.7 247.0,451.0C244.4,447.8 244.3,444.1 244.0,440.0Z" fill="#4a3ca4" opacity=".55" transform="translate(1,4)" filter="url(#soft)"/>
<path d="M244.0,440.0C243.7,436.4 244.3,433.4 245.5,430.0C246.5,427.2 247.5,424.6 250.0,423.0C253.8,420.6 257.5,420.1 262.0,419.5C269.5,418.4 275.4,418.1 283.0,418.3C297.4,418.7 308.7,419.4 323.0,421.0C332.8,422.1 340.5,423.4 350.0,426.0C354.9,427.3 358.5,429.2 363.0,431.7C368.3,434.6 371.9,437.8 377.0,441.0C380.9,443.5 383.5,446.6 388.0,447.5C393.3,448.5 397.6,446.5 403.0,446.0C412.7,445.1 420.2,443.9 430.0,443.5C448.0,442.7 462.0,442.5 480.0,442.5C495.5,442.5 507.5,442.8 523.0,443.5C531.6,443.9 538.2,444.8 546.7,445.7C563.4,447.5 576.4,448.8 593.0,451.0C601.6,452.1 608.3,453.1 616.7,455.0C627.0,457.4 634.9,459.7 645.0,463.0C651.6,465.1 656.7,467.0 663.0,470.0C667.6,472.2 671.7,473.6 675.0,477.5C676.0,478.7 673.5,480.4 672.0,480.5C660.5,481.2 651.4,480.9 640.0,479.5C622.9,477.4 610.0,473.9 593.0,471.0C576.1,468.1 563.0,465.9 546.0,463.5C537.8,462.3 531.3,461.6 523.0,461.0C507.5,459.8 495.5,459.2 480.0,458.5C462.0,457.7 448.0,457.1 430.0,457.0C420.3,456.9 412.7,456.9 403.0,458.0C398.2,458.5 394.5,459.6 390.0,461.5C384.0,464.0 379.8,467.0 374.0,470.0C370.1,472.0 367.3,474.6 363.0,475.5C353.8,477.4 346.4,477.6 337.0,477.7C327.3,477.8 319.7,477.1 310.0,476.0C300.2,474.9 292.5,474.2 283.0,471.7C275.5,469.7 269.7,467.6 263.0,463.7C256.6,460.0 251.6,456.7 247.0,451.0C244.4,447.8 244.3,444.1 244.0,440.0Z" fill="#f4f2ee"/>
<path d="M262,419.5 Q283,418 323,421 Q350,426 363,431.7 L377,441" fill="none" stroke="#cfcad8" stroke-width="2" opacity=".9"/>
<path d="M247,451 Q263,464 283,471.5 Q310,476 337,477.5 Q363,475.5 374,470 Q390,461.5 403,458.5" fill="none" stroke="#dedae4" stroke-width="3" opacity=".8"/>
<path d="M403,458 Q470,458 523,461 Q593,471 640,479.5 L672,480.5" fill="none" stroke="#dedae4" stroke-width="2.5" opacity=".8"/>
<path d="M204.0,524.3C203.0,521.3 208.9,521.3 212.0,520.5C216.2,519.4 219.7,519.2 224.0,519.0C248.8,517.8 268.2,517.4 293.0,516.5C318.2,515.6 337.8,514.8 363.0,514.0C387.1,513.2 405.9,512.6 430.0,512.0C448.0,511.5 462.0,511.5 480.0,511.0C508.8,510.2 531.2,509.4 560.0,508.5C588.8,507.6 611.2,506.5 640.0,506.0C650.1,505.8 658.0,505.3 668.0,506.5C673.3,507.1 677.2,508.7 682.0,511.0C686.0,512.9 689.1,514.7 692.0,518.0C693.5,519.7 694.4,522.0 693.5,524.0C692.2,527.0 689.9,529.2 686.7,530.0C677.4,532.5 669.6,532.2 660.0,533.0C652.8,533.6 647.2,533.9 640.0,534.0C623.1,534.1 609.9,533.9 593.0,533.5C576.3,533.1 563.4,532.6 546.7,532.0C522.7,531.1 504.0,529.6 480.0,529.5C462.0,529.4 448.0,530.5 430.0,531.5C422.1,531.9 415.9,532.4 408.0,533.5C401.1,534.4 395.8,535.8 389.0,537.0C379.6,538.7 372.4,540.5 363.0,541.5C353.7,542.5 346.4,542.8 337.0,542.7C327.3,542.6 319.7,541.7 310.0,541.0C297.8,540.2 288.2,539.8 276.0,538.5C263.0,537.1 252.9,535.4 240.0,533.5C231.0,532.2 223.8,531.8 215.0,529.5C210.8,528.4 205.4,528.5 204.0,524.3Z" fill="#5e52b8" opacity=".55" transform="translate(1,3)" filter="url(#soft)"/>
<path d="M204.0,524.3C203.0,521.3 208.9,521.3 212.0,520.5C216.2,519.4 219.7,519.2 224.0,519.0C248.8,517.8 268.2,517.4 293.0,516.5C318.2,515.6 337.8,514.8 363.0,514.0C387.1,513.2 405.9,512.6 430.0,512.0C448.0,511.5 462.0,511.5 480.0,511.0C508.8,510.2 531.2,509.4 560.0,508.5C588.8,507.6 611.2,506.5 640.0,506.0C650.1,505.8 658.0,505.3 668.0,506.5C673.3,507.1 677.2,508.7 682.0,511.0C686.0,512.9 689.1,514.7 692.0,518.0C693.5,519.7 694.4,522.0 693.5,524.0C692.2,527.0 689.9,529.2 686.7,530.0C677.4,532.5 669.6,532.2 660.0,533.0C652.8,533.6 647.2,533.9 640.0,534.0C623.1,534.1 609.9,533.9 593.0,533.5C576.3,533.1 563.4,532.6 546.7,532.0C522.7,531.1 504.0,529.6 480.0,529.5C462.0,529.4 448.0,530.5 430.0,531.5C422.1,531.9 415.9,532.4 408.0,533.5C401.1,534.4 395.8,535.8 389.0,537.0C379.6,538.7 372.4,540.5 363.0,541.5C353.7,542.5 346.4,542.8 337.0,542.7C327.3,542.6 319.7,541.7 310.0,541.0C297.8,540.2 288.2,539.8 276.0,538.5C263.0,537.1 252.9,535.4 240.0,533.5C231.0,532.2 223.8,531.8 215.0,529.5C210.8,528.4 205.4,528.5 204.0,524.3Z" fill="#f4f2ee"/>
<path d="M337,542.5 L402,534.5" stroke="#e9e6ec" stroke-width="2.2" stroke-dasharray="1.6 1.6"/>
<path d="M430,531 Q480,529 546,531.5 Q600,533.5 660,533" fill="none" stroke="#dedae4" stroke-width="2.5" opacity=".8"/>
</g>
<g id="c4" filter="url(#soft)">
<path d="M171.9,1000.0C172.0,1002.2 171.4,1003.9 171.7,1006.0C172.5,1011.1 173.2,1015.1 174.9,1019.9C176.6,1024.7 178.3,1028.5 181.3,1032.7C184.5,1037.1 187.7,1040.0 192.0,1043.3C197.4,1047.4 201.9,1050.1 208.0,1052.9C215.4,1056.3 221.4,1058.4 229.3,1060.4C238.8,1062.8 246.3,1064.1 256.0,1065.2C267.5,1066.5 276.5,1066.8 288.0,1067.3C299.5,1067.8 308.5,1067.8 320.0,1068.0C365.0,1068.6 400.0,1069.3 445.0,1069.5C490.0,1069.7 525.0,1069.3 570.0,1069.0C582.6,1068.9 592.4,1068.8 605.0,1068.3C617.6,1067.8 627.4,1067.1 640.0,1066.0C651.9,1065.0 661.2,1064.6 673.0,1062.5C679.3,1061.4 684.0,1059.4 690.0,1057.0C694.5,1055.2 698.2,1054.0 702.0,1051.0C706.9,1047.0 710.4,1043.2 713.7,1037.8C716.1,1034.0 716.4,1030.3 717.5,1026.0C718.5,1021.7 718.9,1018.3 719.5,1014.0C720.1,1009.0 720.4,1005.0 720.8,1000.0C721.2,995.0 722.6,991.0 721.6,986.0C720.4,979.9 721.2,970.8 715.0,970.0C612.9,957.4 532.9,950.0 430.0,950.0C339.0,950.0 268.2,957.8 178.0,970.0C172.1,970.8 172.2,979.2 171.0,985.0C169.9,990.3 171.7,994.6 171.9,1000.0Z" fill="url(#c4Body)"/>
<clipPath id="c4bclip"><path d="M171.9,1000.0C172.0,1002.2 171.4,1003.9 171.7,1006.0C172.5,1011.1 173.2,1015.1 174.9,1019.9C176.6,1024.7 178.3,1028.5 181.3,1032.7C184.5,1037.1 187.7,1040.0 192.0,1043.3C197.4,1047.4 201.9,1050.1 208.0,1052.9C215.4,1056.3 221.4,1058.4 229.3,1060.4C238.8,1062.8 246.3,1064.1 256.0,1065.2C267.5,1066.5 276.5,1066.8 288.0,1067.3C299.5,1067.8 308.5,1067.8 320.0,1068.0C365.0,1068.6 400.0,1069.3 445.0,1069.5C490.0,1069.7 525.0,1069.3 570.0,1069.0C582.6,1068.9 592.4,1068.8 605.0,1068.3C617.6,1067.8 627.4,1067.1 640.0,1066.0C651.9,1065.0 661.2,1064.6 673.0,1062.5C679.3,1061.4 684.0,1059.4 690.0,1057.0C694.5,1055.2 698.2,1054.0 702.0,1051.0C706.9,1047.0 710.4,1043.2 713.7,1037.8C716.1,1034.0 716.4,1030.3 717.5,1026.0C718.5,1021.7 718.9,1018.3 719.5,1014.0C720.1,1009.0 720.4,1005.0 720.8,1000.0C721.2,995.0 722.6,991.0 721.6,986.0C720.4,979.9 721.2,970.8 715.0,970.0C612.9,957.4 532.9,950.0 430.0,950.0C339.0,950.0 268.2,957.8 178.0,970.0C172.1,970.8 172.2,979.2 171.0,985.0C169.9,990.3 171.7,994.6 171.9,1000.0Z"/></clipPath>
<g clip-path="url(#c4bclip)"><ellipse cx="280" cy="1040" rx="140" ry="22" fill="#958bdc" opacity=".5" filter="url(#soft6)"/><rect x="150" y="1012" width="600" height="8" fill="#7c72c4" opacity=".5" filter="url(#soft2)"/><path d="M180,1040 Q200,1058 260,1066 L445,1070 L640,1067 Q690,1060 712,1040 L712,1080 L180,1080 Z" fill="#7a6ec2" opacity=".45" filter="url(#soft2)"/></g>
<path d="M340.0,835.0C372.4,834.4 397.6,834.4 430.0,834.5C476.8,834.6 513.2,834.9 560.0,835.7C579.2,836.0 594.3,835.3 613.3,837.7C628.0,839.6 639.2,843.1 653.3,847.7C663.3,851.0 670.6,854.9 680.0,859.7C687.5,863.5 693.1,867.0 700.0,871.7C705.1,875.1 709.0,878.0 713.3,882.3C716.7,885.7 719.1,888.7 721.3,893.0C724.4,898.9 725.8,904.0 728.0,910.3C730.6,917.9 732.3,924.0 734.7,931.7C736.1,936.4 738.1,939.9 738.6,944.8C739.2,950.1 739.2,954.5 737.8,959.7C736.2,965.4 733.8,969.6 730.4,974.5C727.8,978.2 725.0,980.6 721.5,983.4C715.7,988.1 711.2,991.9 704.5,995.2C696.9,998.9 690.3,1000.3 682.2,1002.6C674.3,1004.8 668.1,1006.3 660.0,1007.8C652.9,1009.1 647.2,1009.8 640.0,1010.5C625.6,1011.9 614.4,1013.0 600.0,1013.5C574.1,1014.4 553.9,1014.2 528.0,1014.4C492.7,1014.6 465.3,1014.6 430.0,1014.5C404.8,1014.4 385.2,1014.2 360.0,1013.7C338.4,1013.3 321.6,1012.8 300.0,1012.0C278.4,1011.2 261.5,1011.1 240.0,1009.3C230.5,1008.5 223.3,1006.9 214.0,1004.9C208.6,1003.7 204.4,1002.5 199.3,1000.4C193.8,998.2 189.7,996.0 184.5,993.0C179.4,990.1 175.7,987.5 171.0,984.0C168.5,982.1 166.6,980.5 164.5,978.2C161.5,974.9 159.0,972.4 157.0,968.5C154.9,964.3 153.9,960.6 153.3,956.0C152.7,952.0 152.9,948.8 153.7,944.8C154.4,941.1 155.8,938.4 157.3,935.0C159.5,929.9 161.7,926.1 164.0,921.0C167.5,913.4 169.6,907.2 173.3,899.7C176.8,892.8 179.3,887.1 184.0,881.0C189.0,874.5 193.6,870.0 200.0,865.0C206.6,859.8 212.4,856.5 220.0,853.0C229.3,848.8 236.8,846.1 246.7,843.7C260.9,840.3 272.2,838.4 286.7,837.0C305.8,835.2 320.8,835.3 340.0,835.0Z" fill="url(#c4Ledge)"/>
<path d="M730.4,974.5C727.2,977.7 725.0,980.6 721.5,983.4C715.7,988.1 711.2,991.9 704.5,995.2C696.9,998.9 690.3,1000.3 682.2,1002.6C674.3,1004.8 668.1,1006.3 660.0,1007.8C652.9,1009.1 647.2,1009.8 640.0,1010.5C625.6,1011.9 614.4,1013.0 600.0,1013.5C574.1,1014.4 553.9,1014.2 528.0,1014.4C492.7,1014.6 465.3,1014.6 430.0,1014.5C404.8,1014.4 385.2,1014.2 360.0,1013.7C338.4,1013.3 321.6,1012.8 300.0,1012.0C278.4,1011.2 261.5,1011.1 240.0,1009.3C230.5,1008.5 223.3,1006.9 214.0,1004.9C208.6,1003.7 204.4,1002.5 199.3,1000.4C193.8,998.2 189.7,996.0 184.5,993.0C179.4,990.1 175.7,987.5 171.0,984.0C168.5,982.1 166.8,980.3 164.5,978.2" fill="none" stroke="#bcb1f8" stroke-width="2.2" opacity=".85" transform="translate(0,-5.5)"/>
<path d="M727.0,941.0C726.4,946.4 727.2,951.0 725.2,956.0C722.8,962.0 720.0,966.7 714.9,970.8C707.3,976.9 700.2,980.1 691.0,983.4C680.2,987.2 671.4,989.1 660.0,990.4C638.5,992.9 621.6,993.5 600.0,994.0C556.8,995.0 523.2,994.5 480.0,994.5C436.8,994.5 403.2,994.5 360.0,994.0C316.8,993.5 283.2,993.4 240.0,991.5C229.8,991.1 221.9,989.8 212.0,987.5C205.3,986.0 200.2,984.0 194.0,981.0C188.2,978.2 183.9,975.6 179.0,971.5C175.2,968.3 172.4,965.3 170.0,961.0C167.7,956.9 167.0,953.1 166.0,948.5C165.4,945.5 165.7,943.1 165.5,940.0 L161.5,940.0C161.3,944.3 160.4,947.7 161.0,952.0C161.7,956.5 162.9,960.0 165.0,964.0C167.3,968.3 169.5,971.5 173.0,975.0C177.2,979.2 180.9,982.1 186.0,985.0C192.5,988.6 197.8,991.3 205.0,993.0C217.4,996.0 227.3,997.3 240.0,998.0C283.2,1000.2 316.8,1000.2 360.0,1001.0C403.2,1001.8 436.8,1002.2 480.0,1002.5C523.2,1002.8 556.8,1003.5 600.0,1002.7C621.6,1002.3 638.5,1001.7 660.0,999.0C670.9,997.6 679.3,995.2 689.7,991.5C698.1,988.5 704.5,985.5 711.9,980.4C717.5,976.5 721.4,972.6 725.2,967.0C728.4,962.3 730.4,957.9 731.2,952.2C731.9,946.9 730.0,942.7 729.3,937.4Z" fill="url(#c4Groove)"/>
<path d="M725.0,930.0C725.0,934.0 725.3,937.1 725.0,941.0C724.6,946.1 725.1,950.4 723.0,955.0C720.3,961.1 717.2,965.7 712.0,969.8C704.9,975.3 698.2,978.1 689.7,981.0C679.3,984.6 670.9,986.5 660.0,987.7C638.5,990.0 621.6,990.4 600.0,990.8C556.8,991.6 523.2,991.2 480.0,991.0C436.8,990.8 403.2,990.5 360.0,989.7C316.8,988.9 283.2,988.6 240.0,986.3C230.6,985.8 223.3,984.1 214.1,981.9C208.6,980.6 204.4,979.0 199.3,976.7C193.8,974.2 189.5,972.0 184.5,968.5C180.6,965.8 177.6,963.5 174.8,959.7C172.2,956.1 170.8,952.8 169.7,948.5C168.7,944.6 168.6,941.4 168.9,937.4C169.4,930.3 170.9,925.0 172.0,918.0" fill="none" stroke="#b8acf8" stroke-width="7"/>
<path d="M172.0,918.0C174.9,910.4 176.6,904.3 180.0,897.0C183.3,889.9 185.6,884.0 190.7,878.0C194.5,873.5 199.1,871.7 204.0,868.5C211.1,863.9 216.4,860.1 224.0,856.5C233.0,852.3 240.3,849.3 250.0,847.0C264.2,843.6 275.5,841.9 290.0,840.5C307.9,838.8 322.0,838.8 340.0,838.5C372.4,837.9 397.6,837.9 430.0,838.0C476.8,838.1 513.2,838.3 560.0,839.0C579.2,839.3 594.2,838.4 613.3,840.8C627.9,842.6 639.0,845.9 653.0,850.5C663.1,853.8 670.5,857.7 680.0,862.5C687.4,866.2 692.9,869.8 700.0,874.0C702.5,875.5 704.9,876.1 706.7,878.3C710.3,882.6 712.4,886.6 714.7,891.7C717.7,898.6 719.3,904.4 721.3,911.7C723.0,918.2 723.7,923.4 725.0,930.0" fill="none" stroke="#a196ee" stroke-width="3" opacity=".8"/>
<clipPath id="c4clip"><path d="M340.0,838.5C372.4,837.9 397.6,837.9 430.0,838.0C476.8,838.1 513.2,838.3 560.0,839.0C579.2,839.3 594.2,838.4 613.3,840.8C627.9,842.6 639.0,845.9 653.0,850.5C663.1,853.8 670.5,857.7 680.0,862.5C687.4,866.2 692.9,869.8 700.0,874.0C702.5,875.5 704.9,876.1 706.7,878.3C710.3,882.6 712.4,886.6 714.7,891.7C717.7,898.6 719.3,904.4 721.3,911.7C723.0,918.2 724.2,923.3 725.0,930.0C725.5,933.9 725.3,937.1 725.0,941.0C724.6,946.1 725.1,950.4 723.0,955.0C720.3,961.1 717.2,965.7 712.0,969.8C704.9,975.3 698.2,978.1 689.7,981.0C679.3,984.6 670.9,986.5 660.0,987.7C638.5,990.0 621.6,990.4 600.0,990.8C556.8,991.6 523.2,991.2 480.0,991.0C436.8,990.8 403.2,990.5 360.0,989.7C316.8,988.9 283.2,988.6 240.0,986.3C230.6,985.8 223.3,984.1 214.1,981.9C208.6,980.6 204.4,979.0 199.3,976.7C193.8,974.2 189.5,972.0 184.5,968.5C180.6,965.8 177.6,963.5 174.8,959.7C172.2,956.1 170.8,952.8 169.7,948.5C168.7,944.6 168.6,941.4 168.9,937.4C169.4,930.3 170.1,924.8 172.0,918.0C174.1,910.2 176.6,904.3 180.0,897.0C183.3,889.9 185.6,884.0 190.7,878.0C194.5,873.5 199.1,871.7 204.0,868.5C211.1,863.9 216.4,860.1 224.0,856.5C233.0,852.3 240.3,849.3 250.0,847.0C264.2,843.6 275.5,841.9 290.0,840.5C307.9,838.8 322.0,838.8 340.0,838.5Z"/></clipPath>
<g clip-path="url(#c4clip)">
<rect x="150" y="830" width="600" height="190" fill="#6b5dcb"/>
<rect x="492" y="830" width="260" height="190" fill="#6a5ccb"/>
<path d="M493,897.5 L560,897.5 L624.7,899.5 Q660,903 676,914 Q690,926 698,942 L712,975 L715,1005 L493,1005 Z" fill="url(#c4Floor)"/>
<path d="M624.7,899.5 Q660,903 676,914 Q690,926 698,942 L712,975 L715,1005 L760,1005 L760,840 L640,840 Z" fill="url(#c4RWall)"/>
<ellipse cx="590" cy="984" rx="95" ry="26" fill="#b0a6ee" opacity=".8" filter="url(#soft6)"/>
<path d="M493,897.5 L560,897.5 L624.7,899.5 Q660,903 676,914 Q690,926 698,942" stroke="#8a7ede" stroke-width="2.5" fill="none" opacity=".8"/>
<path d="M180,907 L250,905 L396,900 L490,897 L490,909 L180,909 Z" fill="#796dd4"/>
<rect x="150" y="909" width="341" height="100" fill="#695bc9"/>
<path d="M182,912 L206,912 L216,1000 L186,1000 Z" fill="#5242b8" opacity=".75" filter="url(#soft2)"/>
<path d="M396,909 L491,909 L491,1000 L396,1000 Z" fill="url(#c4LowR)"/>
<path d="M150,880 L176,880 L179,909 L186,985 L150,985 Z" fill="#8074d8"/>
<path d="M196,975 Q300,990 490,990 L490,1005 L196,1005 Z" fill="#6e60cc" opacity=".8"/>
<path d="M179,909 L491,909.5" stroke="#8a7ee0" stroke-width="2.5"/>
<path d="M272.5,907 L272.5,989 L395.5,989 L395.5,907 Z" fill="url(#c4Cup)"/>
<ellipse cx="334" cy="907" rx="61.5" ry="25" fill="#968af0"/>
<ellipse cx="334" cy="907.8" rx="58" ry="21.8" fill="#6456c6"/>
<path d="M489.5,836 L492.5,1000" stroke="#9a8eea" stroke-width="3.5"/>
</g>
</g>
<g id="bt" filter="url(#soft)">
<path d="M168.7,1215.0C168.0,1219.7 169.7,1223.3 170.5,1228.0C171.2,1232.3 171.6,1235.8 172.8,1240.0C174.4,1245.9 176.0,1250.3 178.1,1256.0C180.2,1261.8 182.0,1266.3 184.5,1272.0C187.0,1277.8 189.0,1282.4 192.0,1288.0C194.8,1293.2 197.2,1297.0 200.5,1301.9C203.7,1306.7 206.2,1310.4 210.1,1314.7C214.0,1318.9 217.2,1322.1 221.9,1325.3C226.9,1328.7 231.1,1330.9 236.8,1332.8C243.5,1335.1 249.0,1336.0 256.0,1337.0C263.6,1338.1 269.6,1338.4 277.3,1338.7C292.7,1339.3 304.6,1339.4 320.0,1339.5C365.0,1339.9 400.0,1340.2 445.0,1340.2C490.0,1340.2 525.0,1340.1 570.0,1339.5C585.4,1339.3 597.3,1338.9 612.7,1338.1C620.4,1337.7 626.4,1337.3 634.0,1336.0C641.8,1334.6 647.8,1333.3 655.3,1330.7C661.3,1328.6 665.9,1326.5 671.3,1323.2C676.7,1319.9 680.7,1317.0 685.2,1312.5C689.3,1308.4 691.7,1304.5 694.8,1299.7C697.4,1295.7 699.2,1292.4 701.2,1288.0C703.8,1282.4 705.5,1277.8 707.6,1272.0C709.7,1266.3 711.0,1261.8 712.9,1256.0C714.8,1250.2 716.7,1245.9 718.3,1240.0C719.5,1235.8 719.8,1232.3 720.5,1228.0C721.2,1223.3 723.0,1219.7 722.3,1215.0C721.4,1209.2 721.8,1200.7 716.0,1200.0C613.5,1187.7 533.2,1180.0 430.0,1180.0C337.9,1180.0 266.3,1187.8 175.0,1200.0C169.2,1200.8 169.6,1209.2 168.7,1215.0Z" fill="url(#btBody)"/>
<clipPath id="btbclip"><path d="M168.7,1215.0C168.0,1219.7 169.7,1223.3 170.5,1228.0C171.2,1232.3 171.6,1235.8 172.8,1240.0C174.4,1245.9 176.0,1250.3 178.1,1256.0C180.2,1261.8 182.0,1266.3 184.5,1272.0C187.0,1277.8 189.0,1282.4 192.0,1288.0C194.8,1293.2 197.2,1297.0 200.5,1301.9C203.7,1306.7 206.2,1310.4 210.1,1314.7C214.0,1318.9 217.2,1322.1 221.9,1325.3C226.9,1328.7 231.1,1330.9 236.8,1332.8C243.5,1335.1 249.0,1336.0 256.0,1337.0C263.6,1338.1 269.6,1338.4 277.3,1338.7C292.7,1339.3 304.6,1339.4 320.0,1339.5C365.0,1339.9 400.0,1340.2 445.0,1340.2C490.0,1340.2 525.0,1340.1 570.0,1339.5C585.4,1339.3 597.3,1338.9 612.7,1338.1C620.4,1337.7 626.4,1337.3 634.0,1336.0C641.8,1334.6 647.8,1333.3 655.3,1330.7C661.3,1328.6 665.9,1326.5 671.3,1323.2C676.7,1319.9 680.7,1317.0 685.2,1312.5C689.3,1308.4 691.7,1304.5 694.8,1299.7C697.4,1295.7 699.2,1292.4 701.2,1288.0C703.8,1282.4 705.5,1277.8 707.6,1272.0C709.7,1266.3 711.0,1261.8 712.9,1256.0C714.8,1250.2 716.7,1245.9 718.3,1240.0C719.5,1235.8 719.8,1232.3 720.5,1228.0C721.2,1223.3 723.0,1219.7 722.3,1215.0C721.4,1209.2 721.8,1200.7 716.0,1200.0C613.5,1187.7 533.2,1180.0 430.0,1180.0C337.9,1180.0 266.3,1187.8 175.0,1200.0C169.2,1200.8 169.6,1209.2 168.7,1215.0Z"/></clipPath>
<g clip-path="url(#btbclip)"><path d="M723,1215 L717,1245 L704,1285 L690,1312" stroke="#9a8cea" stroke-width="9" fill="none" opacity=".55" filter="url(#soft2)"/><path d="M168,1215 L174,1245 L187,1282 L203,1308" stroke="#8474dc" stroke-width="8" fill="none" opacity=".5" filter="url(#soft2)"/></g>
<path d="M340.0,1076.3C377.8,1075.8 407.2,1076.0 445.0,1076.0C483.2,1076.0 512.8,1075.8 551.0,1076.3C575.0,1076.6 593.8,1076.3 617.7,1078.3C625.9,1079.0 632.0,1081.5 640.0,1083.7C649.7,1086.3 657.3,1088.2 666.7,1091.7C674.1,1094.5 679.9,1097.0 686.7,1101.0C694.1,1105.4 700.0,1108.8 706.0,1115.0C713.2,1122.4 717.5,1129.4 722.7,1138.3C726.0,1143.9 727.5,1148.9 729.6,1155.0C731.5,1160.3 732.4,1164.6 733.8,1170.0C734.9,1174.3 735.9,1177.6 736.4,1182.0C736.8,1185.6 737.1,1188.6 736.4,1192.2C735.7,1195.9 734.4,1198.6 732.6,1201.9C730.9,1205.1 728.9,1207.1 726.7,1210.0C725.2,1211.9 724.1,1213.6 722.3,1215.2C718.8,1218.4 715.9,1220.8 711.9,1223.4C706.8,1226.7 702.7,1229.2 697.0,1231.5C690.6,1234.1 685.2,1235.1 678.5,1236.7C671.9,1238.3 666.7,1239.6 660.0,1240.4C644.8,1242.1 633.0,1242.8 617.7,1243.5C593.7,1244.6 575.0,1245.2 551.0,1245.5C512.8,1246.1 483.2,1246.0 445.0,1246.0C407.2,1246.0 377.8,1246.1 340.0,1245.5C316.0,1245.2 297.3,1244.6 273.3,1243.5C258.0,1242.8 246.2,1242.1 231.0,1240.4C224.3,1239.6 219.1,1238.3 212.5,1236.7C205.8,1235.1 200.4,1234.1 194.0,1231.5C188.3,1229.2 184.2,1226.7 179.1,1223.4C175.1,1220.8 172.2,1218.4 168.7,1215.2C166.9,1213.6 165.8,1211.9 164.3,1210.0C162.1,1207.1 160.1,1205.1 158.4,1201.9C156.6,1198.6 155.3,1195.9 154.6,1192.2C153.8,1188.2 153.6,1185.0 154.3,1181.0C154.9,1177.5 156.7,1175.3 158.0,1172.0C159.8,1167.3 161.0,1163.6 163.0,1159.0C166.0,1152.0 168.4,1146.5 172.0,1139.7C176.0,1132.3 178.8,1126.3 184.0,1119.7C189.0,1113.3 193.6,1108.7 200.0,1103.7C206.6,1098.5 212.4,1095.2 220.0,1091.7C229.3,1087.5 236.8,1084.8 246.7,1082.3C256.1,1079.9 263.6,1078.9 273.3,1078.3C297.3,1076.8 316.0,1076.6 340.0,1076.3Z" fill="url(#btRim)"/>
<path d="M722.3,1215.2C718.6,1218.2 715.9,1220.8 711.9,1223.4C706.8,1226.7 702.7,1229.2 697.0,1231.5C690.6,1234.1 685.2,1235.1 678.5,1236.7C671.9,1238.3 666.7,1239.6 660.0,1240.4C644.8,1242.1 633.0,1242.8 617.7,1243.5C593.7,1244.6 575.0,1245.2 551.0,1245.5C512.8,1246.1 483.2,1246.0 445.0,1246.0C407.2,1246.0 377.8,1246.1 340.0,1245.5C316.0,1245.2 297.3,1244.6 273.3,1243.5C258.0,1242.8 246.2,1242.1 231.0,1240.4C224.3,1239.6 219.1,1238.3 212.5,1236.7C205.8,1235.1 200.4,1234.1 194.0,1231.5C188.3,1229.2 184.2,1226.7 179.1,1223.4C175.1,1220.8 172.4,1218.2 168.7,1215.2" fill="none" stroke="#6450c6" stroke-width="2" opacity=".5"/>
<path d="M340.0,1082.3C377.8,1081.8 407.2,1082.0 445.0,1082.0C483.2,1082.0 512.8,1081.8 551.0,1082.3C575.0,1082.6 593.7,1082.5 617.7,1084.3C625.9,1084.9 632.1,1086.8 640.0,1089.0C648.8,1091.4 655.6,1093.6 664.0,1097.0C671.0,1099.8 676.3,1102.3 682.7,1106.3C689.3,1110.5 694.6,1113.8 700.0,1119.5C705.9,1125.7 709.4,1131.5 713.5,1139.0C716.5,1144.4 717.6,1149.1 719.5,1155.0C721.2,1160.3 722.3,1164.5 723.5,1170.0C724.4,1174.3 725.5,1177.6 725.3,1182.0C725.1,1185.8 723.9,1188.7 722.3,1192.2C720.6,1195.9 719.1,1198.9 716.3,1201.9C712.6,1205.9 709.2,1208.6 704.5,1211.5C699.5,1214.6 695.2,1216.2 689.7,1218.2C684.5,1220.2 680.2,1221.2 674.8,1222.6C669.5,1223.9 665.4,1225.0 660.0,1225.6C644.8,1227.3 633.0,1228.3 617.7,1229.0C593.7,1230.1 575.0,1230.2 551.0,1230.5C512.8,1230.9 483.2,1231.0 445.0,1231.0C407.2,1231.0 377.8,1230.9 340.0,1230.5C316.0,1230.2 297.3,1230.1 273.3,1229.0C258.0,1228.3 246.2,1227.3 231.0,1225.6C225.6,1225.0 221.5,1223.9 216.2,1222.6C210.8,1221.2 206.5,1220.2 201.3,1218.2C195.8,1216.2 191.5,1214.6 186.5,1211.5C181.8,1208.6 178.4,1205.9 174.7,1201.9C171.9,1198.9 170.2,1196.0 168.7,1192.2C167.2,1188.4 166.6,1185.1 166.5,1181.0C166.4,1177.7 167.1,1175.2 168.0,1172.0C169.3,1167.2 170.6,1163.6 172.5,1159.0C175.0,1152.9 176.9,1148.1 180.0,1142.3C183.5,1135.7 186.3,1130.5 190.7,1124.5C195.0,1118.7 198.4,1114.1 204.0,1109.5C210.1,1104.5 215.6,1101.7 222.7,1098.3C231.1,1094.3 237.8,1091.5 246.7,1089.0C256.1,1086.4 263.6,1085.0 273.3,1084.3C297.3,1082.6 316.0,1082.6 340.0,1082.3Z" fill="none" stroke="#9a8af2" stroke-width="6" opacity=".75"/>
<path d="M723.5,1170.0C724.1,1174.3 725.5,1177.6 725.3,1182.0C725.1,1185.8 723.9,1188.7 722.3,1192.2C720.6,1195.9 719.1,1198.9 716.3,1201.9C712.6,1205.9 709.2,1208.6 704.5,1211.5C699.5,1214.6 695.2,1216.2 689.7,1218.2C684.5,1220.2 680.2,1221.2 674.8,1222.6C669.5,1223.9 665.4,1225.0 660.0,1225.6C644.8,1227.3 633.0,1228.3 617.7,1229.0C593.7,1230.1 575.0,1230.2 551.0,1230.5C512.8,1230.9 483.2,1231.0 445.0,1231.0C407.2,1231.0 377.8,1230.9 340.0,1230.5C316.0,1230.2 297.3,1230.1 273.3,1229.0C258.0,1228.3 246.2,1227.3 231.0,1225.6C225.6,1225.0 221.5,1223.9 216.2,1222.6C210.8,1221.2 206.5,1220.2 201.3,1218.2C195.8,1216.2 191.5,1214.6 186.5,1211.5C181.8,1208.6 178.4,1205.9 174.7,1201.9C171.9,1198.9 170.2,1196.0 168.7,1192.2C167.2,1188.4 166.6,1185.1 166.5,1181.0C166.4,1177.7 167.5,1175.2 168.0,1172.0" fill="none" stroke="#a495f6" stroke-width="8"/>
<path d="M722.3,1192.2C720.1,1195.7 719.1,1198.9 716.3,1201.9C712.6,1205.9 709.2,1208.6 704.5,1211.5C699.5,1214.6 695.2,1216.2 689.7,1218.2C684.5,1220.2 680.2,1221.2 674.8,1222.6C669.5,1223.9 665.4,1225.0 660.0,1225.6C644.8,1227.3 633.0,1228.3 617.7,1229.0C593.7,1230.1 575.0,1230.2 551.0,1230.5C512.8,1230.9 483.2,1231.0 445.0,1231.0C407.2,1231.0 377.8,1230.9 340.0,1230.5C316.0,1230.2 297.3,1230.1 273.3,1229.0C258.0,1228.3 246.2,1227.3 231.0,1225.6C225.6,1225.0 221.5,1223.9 216.2,1222.6C210.8,1221.2 206.5,1220.2 201.3,1218.2C195.8,1216.2 191.5,1214.6 186.5,1211.5C181.8,1208.6 178.4,1205.9 174.7,1201.9C171.9,1198.9 170.9,1195.7 168.7,1192.2" fill="none" stroke="#a495f6" stroke-width="11"/>
<path d="M704.5,1211.5C699.2,1213.9 695.2,1216.2 689.7,1218.2C684.5,1220.2 680.2,1221.2 674.8,1222.6C669.5,1223.9 665.4,1225.0 660.0,1225.6C644.8,1227.3 633.0,1228.3 617.7,1229.0C593.7,1230.1 575.0,1230.2 551.0,1230.5C512.8,1230.9 483.2,1231.0 445.0,1231.0C407.2,1231.0 377.8,1230.9 340.0,1230.5C316.0,1230.2 297.3,1230.1 273.3,1229.0C258.0,1228.3 246.2,1227.3 231.0,1225.6C225.6,1225.0 221.5,1223.9 216.2,1222.6C210.8,1221.2 206.5,1220.2 201.3,1218.2C195.8,1216.2 191.8,1213.9 186.5,1211.5" fill="none" stroke="#a495f6" stroke-width="15"/>
<path d="M166.5,1181.0C167.0,1177.8 167.1,1175.2 168.0,1172.0C169.3,1167.2 170.6,1163.6 172.5,1159.0C175.0,1152.9 176.9,1148.1 180.0,1142.3C183.5,1135.7 186.3,1130.5 190.7,1124.5C195.0,1118.7 198.4,1114.1 204.0,1109.5C210.1,1104.5 215.6,1101.7 222.7,1098.3C231.1,1094.3 237.8,1091.5 246.7,1089.0C256.1,1086.4 263.6,1085.0 273.3,1084.3C297.3,1082.6 316.0,1082.6 340.0,1082.3C377.8,1081.8 407.2,1082.0 445.0,1082.0C483.2,1082.0 512.8,1081.8 551.0,1082.3C575.0,1082.6 593.7,1082.5 617.7,1084.3C625.9,1084.9 632.1,1086.8 640.0,1089.0C648.8,1091.4 655.6,1093.6 664.0,1097.0C671.0,1099.8 676.3,1102.3 682.7,1106.3C689.3,1110.5 694.6,1113.8 700.0,1119.5C705.9,1125.7 709.4,1131.5 713.5,1139.0C716.5,1144.4 717.6,1149.1 719.5,1155.0C721.2,1160.3 722.3,1164.5 723.5,1170.0C724.4,1174.3 724.7,1177.7 725.3,1182.0" fill="none" stroke="#8a78ea" stroke-width="4" opacity=".7"/>
<clipPath id="btclip"><path d="M340.0,1082.3C377.8,1081.8 407.2,1082.0 445.0,1082.0C483.2,1082.0 512.8,1081.8 551.0,1082.3C575.0,1082.6 593.7,1082.5 617.7,1084.3C625.9,1084.9 632.1,1086.8 640.0,1089.0C648.8,1091.4 655.6,1093.6 664.0,1097.0C671.0,1099.8 676.3,1102.3 682.7,1106.3C689.3,1110.5 694.6,1113.8 700.0,1119.5C705.9,1125.7 709.4,1131.5 713.5,1139.0C716.5,1144.4 717.6,1149.1 719.5,1155.0C721.2,1160.3 722.3,1164.5 723.5,1170.0C724.4,1174.3 725.5,1177.6 725.3,1182.0C725.1,1185.8 723.9,1188.7 722.3,1192.2C720.6,1195.9 719.1,1198.9 716.3,1201.9C712.6,1205.9 709.2,1208.6 704.5,1211.5C699.5,1214.6 695.2,1216.2 689.7,1218.2C684.5,1220.2 680.2,1221.2 674.8,1222.6C669.5,1223.9 665.4,1225.0 660.0,1225.6C644.8,1227.3 633.0,1228.3 617.7,1229.0C593.7,1230.1 575.0,1230.2 551.0,1230.5C512.8,1230.9 483.2,1231.0 445.0,1231.0C407.2,1231.0 377.8,1230.9 340.0,1230.5C316.0,1230.2 297.3,1230.1 273.3,1229.0C258.0,1228.3 246.2,1227.3 231.0,1225.6C225.6,1225.0 221.5,1223.9 216.2,1222.6C210.8,1221.2 206.5,1220.2 201.3,1218.2C195.8,1216.2 191.5,1214.6 186.5,1211.5C181.8,1208.6 178.4,1205.9 174.7,1201.9C171.9,1198.9 170.2,1196.0 168.7,1192.2C167.2,1188.4 166.6,1185.1 166.5,1181.0C166.4,1177.7 167.1,1175.2 168.0,1172.0C169.3,1167.2 170.6,1163.6 172.5,1159.0C175.0,1152.9 176.9,1148.1 180.0,1142.3C183.5,1135.7 186.3,1130.5 190.7,1124.5C195.0,1118.7 198.4,1114.1 204.0,1109.5C210.1,1104.5 215.6,1101.7 222.7,1098.3C231.1,1094.3 237.8,1091.5 246.7,1089.0C256.1,1086.4 263.6,1085.0 273.3,1084.3C297.3,1082.6 316.0,1082.6 340.0,1082.3Z"/></clipPath>
<path d="M340.0,1082.3C377.8,1081.8 407.2,1082.0 445.0,1082.0C483.2,1082.0 512.8,1081.8 551.0,1082.3C575.0,1082.6 593.7,1082.5 617.7,1084.3C625.9,1084.9 632.1,1086.8 640.0,1089.0C648.8,1091.4 655.6,1093.6 664.0,1097.0C671.0,1099.8 676.3,1102.3 682.7,1106.3C689.3,1110.5 694.6,1113.8 700.0,1119.5C705.9,1125.7 709.4,1131.5 713.5,1139.0C716.5,1144.4 717.6,1149.1 719.5,1155.0C721.2,1160.3 722.3,1164.5 723.5,1170.0C724.4,1174.3 725.5,1177.6 725.3,1182.0C725.1,1185.8 723.9,1188.7 722.3,1192.2C720.6,1195.9 719.1,1198.9 716.3,1201.9C712.6,1205.9 709.2,1208.6 704.5,1211.5C699.5,1214.6 695.2,1216.2 689.7,1218.2C684.5,1220.2 680.2,1221.2 674.8,1222.6C669.5,1223.9 665.4,1225.0 660.0,1225.6C644.8,1227.3 633.0,1228.3 617.7,1229.0C593.7,1230.1 575.0,1230.2 551.0,1230.5C512.8,1230.9 483.2,1231.0 445.0,1231.0C407.2,1231.0 377.8,1230.9 340.0,1230.5C316.0,1230.2 297.3,1230.1 273.3,1229.0C258.0,1228.3 246.2,1227.3 231.0,1225.6C225.6,1225.0 221.5,1223.9 216.2,1222.6C210.8,1221.2 206.5,1220.2 201.3,1218.2C195.8,1216.2 191.5,1214.6 186.5,1211.5C181.8,1208.6 178.4,1205.9 174.7,1201.9C171.9,1198.9 170.2,1196.0 168.7,1192.2C167.2,1188.4 166.6,1185.1 166.5,1181.0C166.4,1177.7 167.1,1175.2 168.0,1172.0C169.3,1167.2 170.6,1163.6 172.5,1159.0C175.0,1152.9 176.9,1148.1 180.0,1142.3C183.5,1135.7 186.3,1130.5 190.7,1124.5C195.0,1118.7 198.4,1114.1 204.0,1109.5C210.1,1104.5 215.6,1101.7 222.7,1098.3C231.1,1094.3 237.8,1091.5 246.7,1089.0C256.1,1086.4 263.6,1085.0 273.3,1084.3C297.3,1082.6 316.0,1082.6 340.0,1082.3Z" fill="#4a36c0"/>
<g clip-path="url(#btclip)">
<rect x="150" y="1070" width="600" height="180" fill="url(#btIn)"/>
<path d="M150,1260 L196,1230 Q212,1204 250,1193 Q300,1188 430,1188 L560,1188 Q650,1189 682,1196 Q716,1208 730,1236 L750,1260 Z" fill="url(#btFloor)" filter="url(#soft2)"/>
<path d="M487,1089.5 L493,1236" stroke="#8572ee" stroke-width="3.5"/>
</g>
<path d="M716.3,1201.9C712.1,1205.4 709.2,1208.6 704.5,1211.5C699.5,1214.6 695.2,1216.2 689.7,1218.2C684.5,1220.2 680.2,1221.2 674.8,1222.6C669.5,1223.9 665.4,1225.0 660.0,1225.6C644.8,1227.3 633.0,1228.3 617.7,1229.0C593.7,1230.1 575.0,1230.2 551.0,1230.5C512.8,1230.9 483.2,1231.0 445.0,1231.0C407.2,1231.0 377.8,1230.9 340.0,1230.5C316.0,1230.2 297.3,1230.1 273.3,1229.0C258.0,1228.3 246.2,1227.3 231.0,1225.6C225.6,1225.0 221.5,1223.9 216.2,1222.6C210.8,1221.2 206.5,1220.2 201.3,1218.2C195.8,1216.2 191.5,1214.6 186.5,1211.5C181.8,1208.6 178.9,1205.4 174.7,1201.9" fill="none" stroke="#5a46c8" stroke-width="1.5" opacity=".6"/>
</g>
<path d="M866,188.7 L1037,188.7" stroke="#867bd8" stroke-width="3"/>
<circle cx="1037" cy="188.7" r="5.3" fill="#867bd8"/>
<path d="M737,508 L1048,508" stroke="#867bd8" stroke-width="3"/>
<circle cx="1048" cy="508" r="5.3" fill="#867bd8"/>
<path d="M726,689 L1048,689" stroke="#867bd8" stroke-width="3"/>
<circle cx="1048" cy="689" r="5.3" fill="#867bd8"/>
<path d="M722,892.7 L1052,892.7" stroke="#867bd8" stroke-width="3"/>
<circle cx="1052" cy="892.7" r="5.3" fill="#867bd8"/>
<path d="M731,1157.3 L1048,1157.3" stroke="#867bd8" stroke-width="3"/>
<circle cx="1048" cy="1157.3" r="5.3" fill="#867bd8"/>
<text class="lab" transform="translate(1056.95,194.30) scale(1,1.04)" style="font-size:40.75px">Top Lid</text>
<text class="lab" transform="translate(1057.03,487.30) scale(1,1.04)" style="font-size:40.75px">Cutlery/ Snack</text>
<text class="lab" transform="translate(1098.42,538.00) scale(1,1.04)" style="font-size:40.75px">Containers</text>
<text class="lab" transform="translate(1072.23,678.30) scale(1,1.04)" style="font-size:40.75px">Leak-proof</text>
<text class="lab" transform="translate(1058.51,728.30) scale(1,1.04)" style="font-size:40.75px">silicone ring</text>
<text class="lab" transform="translate(1066.27,881.70) scale(1,1.04)" style="font-size:40.75px">Leakproof Container</text>
<text class="lab" transform="translate(1059.82,931.70) scale(1,1.04)" style="font-size:40.75px">with 4 Compartments</text>
<text class="lab" transform="translate(1037.12,1132.70) scale(1,1.04)" style="font-size:40.75px">Bottom Container with</text>
<text class="lab" transform="translate(1095.27,1182.70) scale(1,1.04)" style="font-size:40.75px">2 Compartments</text>
<text class="note" transform="translate(703.90,1337.00) scale(1,1.04)" style="font-size:40.77px">NOTE: Bottom container is not leakproof</text>
<text class="cup" transform="translate(369.52,503.40) scale(1,1.04)" style="font-size:42.8px">1 CUPS</text>
<text class="cup" transform="translate(228.94,877.30) scale(1,1.04)" style="font-size:42.5px">0.75 CUPS</text>
<text class="cup" transform="translate(228.94,979.60) scale(1,1.04)" style="font-size:42.5px">0.75 CUPS</text>
<text class="cup" transform="translate(279.02,918.00) scale(1,1.04)" style="font-size:25.8px">2.7 TBSP</text>
<text class="cup" transform="translate(502.65,936.50) scale(1,1.04)" style="font-size:42.5px">1.3 CUPS</text>
<text class="cup" transform="translate(255.47,1192.00) scale(1,1.04)" style="font-size:42.7px">2.3 CUPS</text>
<text class="cup" transform="translate(505.30,1191.00) scale(1,1.04)" style="font-size:42.7px">1.7 CUPS</text>
</svg>
</body></html>
